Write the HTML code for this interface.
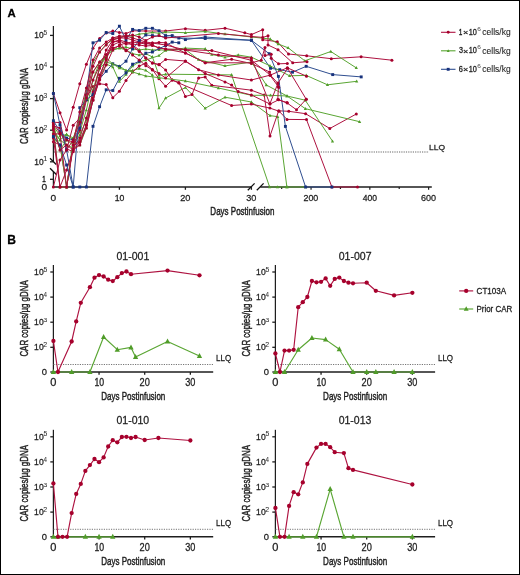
<!DOCTYPE html>
<html><head><meta charset="utf-8"><style>
html,body{margin:0;padding:0;background:#fff;}
svg{display:block;font-family:"Liberation Sans", sans-serif;will-change:transform;}

</style></head><body>
<svg width="520" height="575" viewBox="0 0 520 575">
<rect x="0.5" y="0.5" width="519" height="574" fill="#fff" stroke="#000" stroke-width="1"/>
<text x="7.46" y="16.85" font-size="11.38" font-weight="bold" fill="#000" stroke="#000" stroke-width="0.26" textLength="8.21" lengthAdjust="spacingAndGlyphs">A</text>
<line x1="53.40" y1="26.00" x2="53.40" y2="161.80" stroke="#1e1e1e" stroke-width="1.25"/>
<line x1="53.40" y1="171.80" x2="53.40" y2="187.60" stroke="#1e1e1e" stroke-width="1.25"/>
<line x1="50.00" y1="158.30" x2="56.20" y2="164.50" stroke="#111" stroke-width="1.3"/>
<line x1="50.00" y1="168.20" x2="56.60" y2="174.80" stroke="#111" stroke-width="1.3"/>
<line x1="50.00" y1="35.40" x2="53.40" y2="35.40" stroke="#1e1e1e" stroke-width="1.3"/>
<text x="34.23" y="38.20" font-size="9.14" font-weight="normal" fill="#1f1f1f" stroke="#1f1f1f" stroke-width="0.29" textLength="9.33" lengthAdjust="spacingAndGlyphs">10</text>
<text x="43.54" y="34.79" font-size="6.36" font-weight="normal" fill="#333" stroke="#333" stroke-width="0.05" textLength="3.67" lengthAdjust="spacingAndGlyphs">5</text>
<line x1="50.00" y1="67.00" x2="53.40" y2="67.00" stroke="#1e1e1e" stroke-width="1.3"/>
<text x="34.23" y="69.80" font-size="9.14" font-weight="normal" fill="#1f1f1f" stroke="#1f1f1f" stroke-width="0.29" textLength="9.33" lengthAdjust="spacingAndGlyphs">10</text>
<text x="43.68" y="66.52" font-size="6.54" font-weight="normal" fill="#333" stroke="#333" stroke-width="0.05" textLength="3.38" lengthAdjust="spacingAndGlyphs">4</text>
<line x1="50.00" y1="98.60" x2="53.40" y2="98.60" stroke="#1e1e1e" stroke-width="1.3"/>
<text x="34.23" y="101.40" font-size="9.14" font-weight="normal" fill="#1f1f1f" stroke="#1f1f1f" stroke-width="0.29" textLength="9.33" lengthAdjust="spacingAndGlyphs">10</text>
<text x="43.54" y="97.99" font-size="6.27" font-weight="normal" fill="#333" stroke="#333" stroke-width="0.05" textLength="3.67" lengthAdjust="spacingAndGlyphs">3</text>
<line x1="50.00" y1="130.20" x2="53.40" y2="130.20" stroke="#1e1e1e" stroke-width="1.3"/>
<text x="34.23" y="133.00" font-size="9.14" font-weight="normal" fill="#1f1f1f" stroke="#1f1f1f" stroke-width="0.29" textLength="9.33" lengthAdjust="spacingAndGlyphs">10</text>
<text x="43.46" y="129.65" font-size="6.36" font-weight="normal" fill="#333" stroke="#333" stroke-width="0.05" textLength="3.75" lengthAdjust="spacingAndGlyphs">2</text>
<line x1="50.00" y1="161.80" x2="53.40" y2="161.80" stroke="#1e1e1e" stroke-width="1.3"/>
<text x="34.23" y="164.60" font-size="9.14" font-weight="normal" fill="#1f1f1f" stroke="#1f1f1f" stroke-width="0.29" textLength="9.33" lengthAdjust="spacingAndGlyphs">10</text>
<text x="43.22" y="161.25" font-size="6.45" font-weight="normal" fill="#333" stroke="#333" stroke-width="0.05" textLength="4.01" lengthAdjust="spacingAndGlyphs">1</text>
<line x1="50.00" y1="179.30" x2="53.40" y2="179.30" stroke="#1e1e1e" stroke-width="1.3"/>
<text x="42.20" y="181.70" font-size="8.57" font-weight="normal" fill="#1f1f1f" stroke="#1f1f1f" stroke-width="0.43" textLength="3.49" lengthAdjust="spacingAndGlyphs">1</text>
<text x="41.59" y="189.80" font-size="9.43" font-weight="normal" fill="#1f1f1f" stroke="#1f1f1f" stroke-width="0.26" textLength="5.68" lengthAdjust="spacingAndGlyphs">0</text>
<line x1="52.80" y1="187.00" x2="251.20" y2="187.00" stroke="#1e1e1e" stroke-width="1.45"/>
<line x1="260.20" y1="187.00" x2="431.80" y2="187.00" stroke="#1e1e1e" stroke-width="1.45"/>
<line x1="247.80" y1="190.20" x2="254.60" y2="183.40" stroke="#111" stroke-width="1.3"/>
<line x1="256.80" y1="190.20" x2="263.60" y2="183.40" stroke="#111" stroke-width="1.3"/>
<line x1="119.40" y1="187.00" x2="119.40" y2="189.80" stroke="#1e1e1e" stroke-width="1.3"/>
<line x1="185.40" y1="187.00" x2="185.40" y2="189.80" stroke="#1e1e1e" stroke-width="1.3"/>
<line x1="251.40" y1="187.00" x2="251.40" y2="189.80" stroke="#1e1e1e" stroke-width="1.3"/>
<line x1="281.66" y1="187.00" x2="281.66" y2="189.00" stroke="#1e1e1e" stroke-width="1.2"/>
<line x1="311.05" y1="187.00" x2="311.05" y2="189.80" stroke="#1e1e1e" stroke-width="1.2"/>
<line x1="340.44" y1="187.00" x2="340.44" y2="189.00" stroke="#1e1e1e" stroke-width="1.2"/>
<line x1="369.83" y1="187.00" x2="369.83" y2="189.80" stroke="#1e1e1e" stroke-width="1.2"/>
<line x1="399.22" y1="187.00" x2="399.22" y2="189.00" stroke="#1e1e1e" stroke-width="1.2"/>
<line x1="428.61" y1="187.00" x2="428.61" y2="189.80" stroke="#1e1e1e" stroke-width="1.2"/>
<text x="50.59" y="200.80" font-size="9.71" font-weight="normal" fill="#1f1f1f" stroke="#1f1f1f" stroke-width="0.26" textLength="5.68" lengthAdjust="spacingAndGlyphs">0</text>
<text x="114.71" y="200.80" font-size="9.71" font-weight="normal" fill="#1f1f1f" stroke="#1f1f1f" stroke-width="0.30" textLength="9.66" lengthAdjust="spacingAndGlyphs">10</text>
<text x="180.14" y="200.80" font-size="9.71" font-weight="normal" fill="#1f1f1f" stroke="#1f1f1f" stroke-width="0.26" textLength="10.25" lengthAdjust="spacingAndGlyphs">20</text>
<text x="246.23" y="200.80" font-size="9.71" font-weight="normal" fill="#1f1f1f" stroke="#1f1f1f" stroke-width="0.27" textLength="10.15" lengthAdjust="spacingAndGlyphs">30</text>
<text x="303.45" y="200.80" font-size="9.71" font-weight="normal" fill="#1f1f1f" stroke="#1f1f1f" stroke-width="0.29" textLength="14.89" lengthAdjust="spacingAndGlyphs">200</text>
<text x="362.63" y="200.80" font-size="9.71" font-weight="normal" fill="#1f1f1f" stroke="#1f1f1f" stroke-width="0.31" textLength="14.30" lengthAdjust="spacingAndGlyphs">400</text>
<text x="421.05" y="200.80" font-size="9.71" font-weight="normal" fill="#1f1f1f" stroke="#1f1f1f" stroke-width="0.27" textLength="15.10" lengthAdjust="spacingAndGlyphs">600</text>
<text x="210.36" y="214.70" font-size="11.01" font-weight="normal" fill="#1f1f1f" stroke="#1f1f1f" stroke-width="0.44" textLength="64.05" lengthAdjust="spacingAndGlyphs">Days Postinfusion</text>
<text transform="translate(27.80,143.89) rotate(-90)" x="0" y="0" font-size="10.87" fill="#1f1f1f" stroke="#1f1f1f" stroke-width="0.44" textLength="75.84" lengthAdjust="spacingAndGlyphs">CAR copies/µg gDNA</text>
<line x1="54.0" y1="152" x2="429" y2="152" stroke="#666" stroke-width="1.1" stroke-dasharray="1.2 1.1"/>
<text x="429.02" y="150.00" font-size="7.71" font-weight="normal" fill="#1f1f1f" stroke="#1f1f1f" stroke-width="0.26" textLength="16.00" lengthAdjust="spacingAndGlyphs">LLQ</text>
<line x1="441.00" y1="32.30" x2="455.50" y2="32.30" stroke="#ae1240" stroke-width="1.1"/>
<circle cx="448.20" cy="32.30" r="1.45" fill="#a6002c"/>
<text x="459.03" y="34.90" font-size="8.43" font-weight="normal" fill="#1f1f1f" stroke="#1f1f1f" stroke-width="0.47" textLength="3.23" lengthAdjust="spacingAndGlyphs">1</text>
<text x="463.11" y="35.12" font-size="7.95" font-weight="normal" fill="#1f1f1f" stroke="#1f1f1f" stroke-width="0.26" textLength="5.31" lengthAdjust="spacingAndGlyphs">×</text>
<text x="468.66" y="34.90" font-size="8.43" font-weight="normal" fill="#1f1f1f" stroke="#1f1f1f" stroke-width="0.32" textLength="8.15" lengthAdjust="spacingAndGlyphs">10</text>
<text x="477.17" y="30.95" font-size="5.28" font-weight="normal" fill="#444" textLength="3.63" lengthAdjust="spacingAndGlyphs">6</text>
<text x="482.36" y="35.05" font-size="8.83" font-weight="normal" fill="#1f1f1f" stroke="#1f1f1f" stroke-width="0.10" textLength="28.29" lengthAdjust="spacingAndGlyphs">cells/kg</text>
<line x1="441.00" y1="50.80" x2="455.50" y2="50.80" stroke="#5aa633" stroke-width="1.1"/>
<path d="M448.20,49.15L449.65,51.90L446.75,51.90Z" fill="#509c29"/>
<text x="458.91" y="53.40" font-size="8.43" font-weight="normal" fill="#1f1f1f" stroke="#1f1f1f" stroke-width="0.33" textLength="4.02" lengthAdjust="spacingAndGlyphs">3</text>
<text x="463.11" y="53.62" font-size="7.95" font-weight="normal" fill="#1f1f1f" stroke="#1f1f1f" stroke-width="0.26" textLength="5.31" lengthAdjust="spacingAndGlyphs">×</text>
<text x="468.66" y="53.40" font-size="8.43" font-weight="normal" fill="#1f1f1f" stroke="#1f1f1f" stroke-width="0.32" textLength="8.15" lengthAdjust="spacingAndGlyphs">10</text>
<text x="477.17" y="49.45" font-size="5.28" font-weight="normal" fill="#444" textLength="3.63" lengthAdjust="spacingAndGlyphs">6</text>
<text x="482.36" y="53.55" font-size="8.83" font-weight="normal" fill="#1f1f1f" stroke="#1f1f1f" stroke-width="0.10" textLength="28.29" lengthAdjust="spacingAndGlyphs">cells/kg</text>
<line x1="441.00" y1="69.30" x2="455.50" y2="69.30" stroke="#2f4e90" stroke-width="1.1"/>
<rect x="446.75" y="67.85" width="2.9" height="2.9" fill="#17327c"/>
<text x="458.83" y="71.90" font-size="8.43" font-weight="normal" fill="#1f1f1f" stroke="#1f1f1f" stroke-width="0.32" textLength="4.11" lengthAdjust="spacingAndGlyphs">6</text>
<text x="463.11" y="72.12" font-size="7.95" font-weight="normal" fill="#1f1f1f" stroke="#1f1f1f" stroke-width="0.26" textLength="5.31" lengthAdjust="spacingAndGlyphs">×</text>
<text x="468.66" y="71.90" font-size="8.43" font-weight="normal" fill="#1f1f1f" stroke="#1f1f1f" stroke-width="0.32" textLength="8.15" lengthAdjust="spacingAndGlyphs">10</text>
<text x="477.17" y="67.95" font-size="5.28" font-weight="normal" fill="#444" textLength="3.63" lengthAdjust="spacingAndGlyphs">6</text>
<text x="482.36" y="72.05" font-size="8.83" font-weight="normal" fill="#1f1f1f" stroke="#1f1f1f" stroke-width="0.10" textLength="28.29" lengthAdjust="spacingAndGlyphs">cells/kg</text>
<polyline points="53.40,125.70 60.00,136.00 66.60,134.50 73.20,140.00 79.80,132.00 86.40,110.00 93.00,80.00 99.60,62.00 106.20,56.00 112.80,50.00 119.40,48.00 126.00,50.00 132.60,53.70 139.20,55.00 145.80,53.80 152.40,56.90 159.00,75.40 165.60,74.20 231.60,74.90 269.60,187.00 277.50,187.00 287.00,187.00" fill="none" stroke="#5aa633" stroke-width="1.0" stroke-linejoin="round"/>
<path d="M53.40,123.88L55.00,126.92L51.80,126.92Z" fill="#509c29"/>
<path d="M60.00,134.18L61.60,137.22L58.40,137.22Z" fill="#509c29"/>
<path d="M66.60,132.68L68.20,135.72L65.00,135.72Z" fill="#509c29"/>
<path d="M73.20,138.18L74.80,141.22L71.60,141.22Z" fill="#509c29"/>
<path d="M79.80,130.18L81.40,133.22L78.20,133.22Z" fill="#509c29"/>
<path d="M86.40,108.18L88.00,111.22L84.80,111.22Z" fill="#509c29"/>
<path d="M93.00,78.18L94.60,81.22L91.40,81.22Z" fill="#509c29"/>
<path d="M99.60,60.18L101.20,63.22L98.00,63.22Z" fill="#509c29"/>
<path d="M106.20,54.18L107.80,57.22L104.60,57.22Z" fill="#509c29"/>
<path d="M112.80,48.18L114.40,51.22L111.20,51.22Z" fill="#509c29"/>
<path d="M119.40,46.18L121.00,49.22L117.80,49.22Z" fill="#509c29"/>
<path d="M126.00,48.18L127.60,51.22L124.40,51.22Z" fill="#509c29"/>
<path d="M132.60,51.88L134.20,54.92L131.00,54.92Z" fill="#509c29"/>
<path d="M139.20,53.18L140.80,56.22L137.60,56.22Z" fill="#509c29"/>
<path d="M145.80,51.98L147.40,55.02L144.20,55.02Z" fill="#509c29"/>
<path d="M152.40,55.08L154.00,58.12L150.80,58.12Z" fill="#509c29"/>
<path d="M159.00,73.58L160.60,76.62L157.40,76.62Z" fill="#509c29"/>
<path d="M165.60,72.38L167.20,75.42L164.00,75.42Z" fill="#509c29"/>
<path d="M231.60,73.08L233.20,76.12L230.00,76.12Z" fill="#509c29"/>
<path d="M269.60,185.18L271.20,188.22L268.00,188.22Z" fill="#509c29"/>
<path d="M277.50,185.18L279.10,188.22L275.90,188.22Z" fill="#509c29"/>
<path d="M287.00,185.18L288.60,188.22L285.40,188.22Z" fill="#509c29"/>
<polyline points="53.40,93.50 60.00,112.70 66.60,129.90 73.20,107.20 79.80,83.70 86.40,64.20 93.00,48.20 99.60,38.40 106.20,33.00 112.80,31.10 119.40,32.40 126.00,33.50 132.60,30.80 145.80,31.00 165.60,31.00 185.40,28.70 205.20,30.30 225.00,28.20 244.80,32.80 251.40,34.60 262.70,29.70 262.70,39.70 277.30,41.70 288.50,54.00 306.70,55.80 331.30,58.70 361.10,56.80 391.90,60.20" fill="none" stroke="#ae1240" stroke-width="1.0" stroke-linejoin="round"/>
<circle cx="53.40" cy="93.50" r="1.5" fill="#a6002c"/>
<circle cx="60.00" cy="112.70" r="1.5" fill="#a6002c"/>
<circle cx="66.60" cy="129.90" r="1.5" fill="#a6002c"/>
<circle cx="73.20" cy="107.20" r="1.5" fill="#a6002c"/>
<circle cx="79.80" cy="83.70" r="1.5" fill="#a6002c"/>
<circle cx="86.40" cy="64.20" r="1.5" fill="#a6002c"/>
<circle cx="93.00" cy="48.20" r="1.5" fill="#a6002c"/>
<circle cx="99.60" cy="38.40" r="1.5" fill="#a6002c"/>
<circle cx="106.20" cy="33.00" r="1.5" fill="#a6002c"/>
<circle cx="112.80" cy="31.10" r="1.5" fill="#a6002c"/>
<circle cx="119.40" cy="32.40" r="1.5" fill="#a6002c"/>
<circle cx="126.00" cy="33.50" r="1.5" fill="#a6002c"/>
<circle cx="132.60" cy="30.80" r="1.5" fill="#a6002c"/>
<circle cx="145.80" cy="31.00" r="1.5" fill="#a6002c"/>
<circle cx="165.60" cy="31.00" r="1.5" fill="#a6002c"/>
<circle cx="185.40" cy="28.70" r="1.5" fill="#a6002c"/>
<circle cx="205.20" cy="30.30" r="1.5" fill="#a6002c"/>
<circle cx="225.00" cy="28.20" r="1.5" fill="#a6002c"/>
<circle cx="244.80" cy="32.80" r="1.5" fill="#a6002c"/>
<circle cx="251.40" cy="34.60" r="1.5" fill="#a6002c"/>
<circle cx="262.70" cy="29.70" r="1.5" fill="#a6002c"/>
<circle cx="262.70" cy="39.70" r="1.5" fill="#a6002c"/>
<circle cx="277.30" cy="41.70" r="1.5" fill="#a6002c"/>
<circle cx="288.50" cy="54.00" r="1.5" fill="#a6002c"/>
<circle cx="306.70" cy="55.80" r="1.5" fill="#a6002c"/>
<circle cx="331.30" cy="58.70" r="1.5" fill="#a6002c"/>
<circle cx="361.10" cy="56.80" r="1.5" fill="#a6002c"/>
<circle cx="391.90" cy="60.20" r="1.5" fill="#a6002c"/>
<polyline points="53.40,128.00 60.00,187.00 66.60,187.00 73.20,145.00 79.80,135.00 86.40,120.00 93.00,95.00 99.60,68.00 106.20,62.00 112.80,64.00 119.40,66.00 126.00,70.50 132.60,70.50 139.20,68.50 145.80,70.40 152.40,75.00 159.00,108.10 165.60,98.10 185.40,87.50 205.20,108.30 225.00,97.20 251.40,102.00 270.00,115.60 277.70,116.70 286.90,187.00 305.60,187.00" fill="none" stroke="#5aa633" stroke-width="1.0" stroke-linejoin="round"/>
<path d="M53.40,126.18L55.00,129.22L51.80,129.22Z" fill="#509c29"/>
<path d="M60.00,185.18L61.60,188.22L58.40,188.22Z" fill="#509c29"/>
<path d="M66.60,185.18L68.20,188.22L65.00,188.22Z" fill="#509c29"/>
<path d="M73.20,143.18L74.80,146.22L71.60,146.22Z" fill="#509c29"/>
<path d="M79.80,133.18L81.40,136.22L78.20,136.22Z" fill="#509c29"/>
<path d="M86.40,118.18L88.00,121.22L84.80,121.22Z" fill="#509c29"/>
<path d="M93.00,93.18L94.60,96.22L91.40,96.22Z" fill="#509c29"/>
<path d="M99.60,66.18L101.20,69.22L98.00,69.22Z" fill="#509c29"/>
<path d="M106.20,60.18L107.80,63.22L104.60,63.22Z" fill="#509c29"/>
<path d="M112.80,62.18L114.40,65.22L111.20,65.22Z" fill="#509c29"/>
<path d="M119.40,64.18L121.00,67.22L117.80,67.22Z" fill="#509c29"/>
<path d="M126.00,68.68L127.60,71.72L124.40,71.72Z" fill="#509c29"/>
<path d="M132.60,68.68L134.20,71.72L131.00,71.72Z" fill="#509c29"/>
<path d="M139.20,66.68L140.80,69.72L137.60,69.72Z" fill="#509c29"/>
<path d="M145.80,68.58L147.40,71.62L144.20,71.62Z" fill="#509c29"/>
<path d="M152.40,73.18L154.00,76.22L150.80,76.22Z" fill="#509c29"/>
<path d="M159.00,106.28L160.60,109.32L157.40,109.32Z" fill="#509c29"/>
<path d="M165.60,96.28L167.20,99.32L164.00,99.32Z" fill="#509c29"/>
<path d="M185.40,85.68L187.00,88.72L183.80,88.72Z" fill="#509c29"/>
<path d="M205.20,106.48L206.80,109.52L203.60,109.52Z" fill="#509c29"/>
<path d="M225.00,95.38L226.60,98.42L223.40,98.42Z" fill="#509c29"/>
<path d="M251.40,100.18L253.00,103.22L249.80,103.22Z" fill="#509c29"/>
<path d="M270.00,113.78L271.60,116.82L268.40,116.82Z" fill="#509c29"/>
<path d="M277.70,114.88L279.30,117.92L276.10,117.92Z" fill="#509c29"/>
<path d="M286.90,185.18L288.50,188.22L285.30,188.22Z" fill="#509c29"/>
<path d="M305.60,185.18L307.20,188.22L304.00,188.22Z" fill="#509c29"/>
<polyline points="53.40,122.20 60.00,122.60 66.60,148.80 73.20,151.80 79.80,123.50 86.40,97.50 93.00,86.50 99.60,83.80 106.20,84.60 112.80,97.70 119.40,91.30 126.00,80.40 132.60,72.10 139.20,66.00 145.80,63.30 152.40,69.50 159.00,78.70 165.60,86.30 172.20,80.10 178.80,82.50 185.40,96.50 192.00,94.60 198.60,78.10 205.20,77.00 211.80,85.30 251.40,90.20 264.20,95.00 270.00,136.00 278.70,110.80 288.80,111.30 305.60,113.70 329.80,128.50 356.30,114.00" fill="none" stroke="#ae1240" stroke-width="1.0" stroke-linejoin="round"/>
<circle cx="53.40" cy="122.20" r="1.5" fill="#a6002c"/>
<circle cx="60.00" cy="122.60" r="1.5" fill="#a6002c"/>
<circle cx="66.60" cy="148.80" r="1.5" fill="#a6002c"/>
<circle cx="73.20" cy="151.80" r="1.5" fill="#a6002c"/>
<circle cx="79.80" cy="123.50" r="1.5" fill="#a6002c"/>
<circle cx="86.40" cy="97.50" r="1.5" fill="#a6002c"/>
<circle cx="93.00" cy="86.50" r="1.5" fill="#a6002c"/>
<circle cx="99.60" cy="83.80" r="1.5" fill="#a6002c"/>
<circle cx="106.20" cy="84.60" r="1.5" fill="#a6002c"/>
<circle cx="112.80" cy="97.70" r="1.5" fill="#a6002c"/>
<circle cx="119.40" cy="91.30" r="1.5" fill="#a6002c"/>
<circle cx="126.00" cy="80.40" r="1.5" fill="#a6002c"/>
<circle cx="132.60" cy="72.10" r="1.5" fill="#a6002c"/>
<circle cx="139.20" cy="66.00" r="1.5" fill="#a6002c"/>
<circle cx="145.80" cy="63.30" r="1.5" fill="#a6002c"/>
<circle cx="152.40" cy="69.50" r="1.5" fill="#a6002c"/>
<circle cx="159.00" cy="78.70" r="1.5" fill="#a6002c"/>
<circle cx="165.60" cy="86.30" r="1.5" fill="#a6002c"/>
<circle cx="172.20" cy="80.10" r="1.5" fill="#a6002c"/>
<circle cx="178.80" cy="82.50" r="1.5" fill="#a6002c"/>
<circle cx="185.40" cy="96.50" r="1.5" fill="#a6002c"/>
<circle cx="192.00" cy="94.60" r="1.5" fill="#a6002c"/>
<circle cx="198.60" cy="78.10" r="1.5" fill="#a6002c"/>
<circle cx="205.20" cy="77.00" r="1.5" fill="#a6002c"/>
<circle cx="211.80" cy="85.30" r="1.5" fill="#a6002c"/>
<circle cx="251.40" cy="90.20" r="1.5" fill="#a6002c"/>
<circle cx="264.20" cy="95.00" r="1.5" fill="#a6002c"/>
<circle cx="270.00" cy="136.00" r="1.5" fill="#a6002c"/>
<circle cx="278.70" cy="110.80" r="1.5" fill="#a6002c"/>
<circle cx="288.80" cy="111.30" r="1.5" fill="#a6002c"/>
<circle cx="305.60" cy="113.70" r="1.5" fill="#a6002c"/>
<circle cx="329.80" cy="128.50" r="1.5" fill="#a6002c"/>
<circle cx="356.30" cy="114.00" r="1.5" fill="#a6002c"/>
<polyline points="53.40,132.00 60.00,140.00 66.60,134.50 73.20,138.00 79.80,120.00 86.40,90.00 93.00,62.00 99.60,52.00 106.20,44.00 112.80,39.90 119.40,37.00 126.00,36.00 132.60,36.00 139.20,34.00 145.80,33.50 152.40,32.40 159.00,33.30 165.60,32.00 185.40,32.70 205.20,31.50 225.00,34.00 251.40,37.00 270.20,39.00 278.20,44.00 288.10,47.80 304.80,60.80 330.80,51.50 356.30,67.90" fill="none" stroke="#5aa633" stroke-width="1.0" stroke-linejoin="round"/>
<path d="M53.40,130.18L55.00,133.22L51.80,133.22Z" fill="#509c29"/>
<path d="M60.00,138.18L61.60,141.22L58.40,141.22Z" fill="#509c29"/>
<path d="M66.60,132.68L68.20,135.72L65.00,135.72Z" fill="#509c29"/>
<path d="M73.20,136.18L74.80,139.22L71.60,139.22Z" fill="#509c29"/>
<path d="M79.80,118.18L81.40,121.22L78.20,121.22Z" fill="#509c29"/>
<path d="M86.40,88.18L88.00,91.22L84.80,91.22Z" fill="#509c29"/>
<path d="M93.00,60.18L94.60,63.22L91.40,63.22Z" fill="#509c29"/>
<path d="M99.60,50.18L101.20,53.22L98.00,53.22Z" fill="#509c29"/>
<path d="M106.20,42.18L107.80,45.22L104.60,45.22Z" fill="#509c29"/>
<path d="M112.80,38.08L114.40,41.12L111.20,41.12Z" fill="#509c29"/>
<path d="M119.40,35.18L121.00,38.22L117.80,38.22Z" fill="#509c29"/>
<path d="M126.00,34.18L127.60,37.22L124.40,37.22Z" fill="#509c29"/>
<path d="M132.60,34.18L134.20,37.22L131.00,37.22Z" fill="#509c29"/>
<path d="M139.20,32.18L140.80,35.22L137.60,35.22Z" fill="#509c29"/>
<path d="M145.80,31.68L147.40,34.72L144.20,34.72Z" fill="#509c29"/>
<path d="M152.40,30.58L154.00,33.62L150.80,33.62Z" fill="#509c29"/>
<path d="M159.00,31.48L160.60,34.52L157.40,34.52Z" fill="#509c29"/>
<path d="M165.60,30.18L167.20,33.22L164.00,33.22Z" fill="#509c29"/>
<path d="M185.40,30.88L187.00,33.92L183.80,33.92Z" fill="#509c29"/>
<path d="M205.20,29.68L206.80,32.72L203.60,32.72Z" fill="#509c29"/>
<path d="M225.00,32.18L226.60,35.22L223.40,35.22Z" fill="#509c29"/>
<path d="M251.40,35.18L253.00,38.22L249.80,38.22Z" fill="#509c29"/>
<path d="M270.20,37.18L271.80,40.22L268.60,40.22Z" fill="#509c29"/>
<path d="M278.20,42.18L279.80,45.22L276.60,45.22Z" fill="#509c29"/>
<path d="M288.10,45.98L289.70,49.02L286.50,49.02Z" fill="#509c29"/>
<path d="M304.80,58.98L306.40,62.02L303.20,62.02Z" fill="#509c29"/>
<path d="M330.80,49.68L332.40,52.72L329.20,52.72Z" fill="#509c29"/>
<path d="M356.30,66.08L357.90,69.12L354.70,69.12Z" fill="#509c29"/>
<polyline points="53.40,141.80 60.00,144.90 66.60,187.00 73.20,145.00 79.80,130.00 86.40,100.00 93.00,80.00 99.60,66.00 106.20,55.00 112.80,42.00 119.40,40.00 126.00,42.00 132.60,45.00 139.20,50.00 145.80,58.00 152.40,63.10 159.00,64.50 165.60,70.00 172.20,80.10 178.80,83.00 231.60,105.50 251.40,104.10 269.90,108.10 279.00,111.20 287.00,119.40 306.50,119.60 331.90,187.00 357.50,187.00" fill="none" stroke="#ae1240" stroke-width="1.0" stroke-linejoin="round"/>
<circle cx="53.40" cy="141.80" r="1.5" fill="#a6002c"/>
<circle cx="60.00" cy="144.90" r="1.5" fill="#a6002c"/>
<circle cx="66.60" cy="187.00" r="1.5" fill="#a6002c"/>
<circle cx="73.20" cy="145.00" r="1.5" fill="#a6002c"/>
<circle cx="79.80" cy="130.00" r="1.5" fill="#a6002c"/>
<circle cx="86.40" cy="100.00" r="1.5" fill="#a6002c"/>
<circle cx="93.00" cy="80.00" r="1.5" fill="#a6002c"/>
<circle cx="99.60" cy="66.00" r="1.5" fill="#a6002c"/>
<circle cx="106.20" cy="55.00" r="1.5" fill="#a6002c"/>
<circle cx="112.80" cy="42.00" r="1.5" fill="#a6002c"/>
<circle cx="119.40" cy="40.00" r="1.5" fill="#a6002c"/>
<circle cx="126.00" cy="42.00" r="1.5" fill="#a6002c"/>
<circle cx="132.60" cy="45.00" r="1.5" fill="#a6002c"/>
<circle cx="139.20" cy="50.00" r="1.5" fill="#a6002c"/>
<circle cx="145.80" cy="58.00" r="1.5" fill="#a6002c"/>
<circle cx="152.40" cy="63.10" r="1.5" fill="#a6002c"/>
<circle cx="159.00" cy="64.50" r="1.5" fill="#a6002c"/>
<circle cx="165.60" cy="70.00" r="1.5" fill="#a6002c"/>
<circle cx="172.20" cy="80.10" r="1.5" fill="#a6002c"/>
<circle cx="178.80" cy="83.00" r="1.5" fill="#a6002c"/>
<circle cx="231.60" cy="105.50" r="1.5" fill="#a6002c"/>
<circle cx="251.40" cy="104.10" r="1.5" fill="#a6002c"/>
<circle cx="269.90" cy="108.10" r="1.5" fill="#a6002c"/>
<circle cx="279.00" cy="111.20" r="1.5" fill="#a6002c"/>
<circle cx="287.00" cy="119.40" r="1.5" fill="#a6002c"/>
<circle cx="306.50" cy="119.60" r="1.5" fill="#a6002c"/>
<circle cx="331.90" cy="187.00" r="1.5" fill="#a6002c"/>
<circle cx="357.50" cy="187.00" r="1.5" fill="#a6002c"/>
<polyline points="53.40,120.70 60.00,131.50 66.60,138.00 73.20,140.00 79.80,128.00 86.40,95.00 93.00,42.80 99.60,40.20 106.20,32.50 112.80,33.50 119.40,26.20 126.00,40.10 132.60,29.40 139.20,30.50 145.80,28.30 152.40,28.30 159.00,30.70 165.60,35.60 172.20,35.60 185.40,39.60 205.20,37.00 251.40,40.30 270.50,68.30 279.70,69.70 292.50,72.20 306.20,66.30 332.70,74.60 361.20,76.90" fill="none" stroke="#2f4e90" stroke-width="1.0" stroke-linejoin="round"/>
<rect x="51.95" y="119.25" width="2.9" height="2.9" fill="#17327c"/>
<rect x="58.55" y="130.05" width="2.9" height="2.9" fill="#17327c"/>
<rect x="65.15" y="136.55" width="2.9" height="2.9" fill="#17327c"/>
<rect x="71.75" y="138.55" width="2.9" height="2.9" fill="#17327c"/>
<rect x="78.35" y="126.55" width="2.9" height="2.9" fill="#17327c"/>
<rect x="84.95" y="93.55" width="2.9" height="2.9" fill="#17327c"/>
<rect x="91.55" y="41.35" width="2.9" height="2.9" fill="#17327c"/>
<rect x="98.15" y="38.75" width="2.9" height="2.9" fill="#17327c"/>
<rect x="104.75" y="31.05" width="2.9" height="2.9" fill="#17327c"/>
<rect x="111.35" y="32.05" width="2.9" height="2.9" fill="#17327c"/>
<rect x="117.95" y="24.75" width="2.9" height="2.9" fill="#17327c"/>
<rect x="124.55" y="38.65" width="2.9" height="2.9" fill="#17327c"/>
<rect x="131.15" y="27.95" width="2.9" height="2.9" fill="#17327c"/>
<rect x="137.75" y="29.05" width="2.9" height="2.9" fill="#17327c"/>
<rect x="144.35" y="26.85" width="2.9" height="2.9" fill="#17327c"/>
<rect x="150.95" y="26.85" width="2.9" height="2.9" fill="#17327c"/>
<rect x="157.55" y="29.25" width="2.9" height="2.9" fill="#17327c"/>
<rect x="164.15" y="34.15" width="2.9" height="2.9" fill="#17327c"/>
<rect x="170.75" y="34.15" width="2.9" height="2.9" fill="#17327c"/>
<rect x="183.95" y="38.15" width="2.9" height="2.9" fill="#17327c"/>
<rect x="203.75" y="35.55" width="2.9" height="2.9" fill="#17327c"/>
<rect x="249.95" y="38.85" width="2.9" height="2.9" fill="#17327c"/>
<rect x="269.05" y="66.85" width="2.9" height="2.9" fill="#17327c"/>
<rect x="278.25" y="68.25" width="2.9" height="2.9" fill="#17327c"/>
<rect x="291.05" y="70.75" width="2.9" height="2.9" fill="#17327c"/>
<rect x="304.75" y="64.85" width="2.9" height="2.9" fill="#17327c"/>
<rect x="331.25" y="73.15" width="2.9" height="2.9" fill="#17327c"/>
<rect x="359.75" y="75.45" width="2.9" height="2.9" fill="#17327c"/>
<polyline points="53.40,124.00 60.00,150.00 66.60,140.00 73.20,145.00 79.80,140.00 86.40,125.00 93.00,90.00 99.60,68.00 106.20,56.00 112.80,50.00 119.40,48.00 126.00,47.00 132.60,49.00 139.20,50.00 145.80,49.00 152.40,50.00 159.00,49.70 165.60,50.30 185.40,48.10 205.20,48.90 211.80,54.50 225.00,57.20 238.20,55.00 251.40,57.20 270.00,65.80 289.60,75.80 306.20,75.40 327.50,84.80 356.70,81.30" fill="none" stroke="#5aa633" stroke-width="1.0" stroke-linejoin="round"/>
<path d="M53.40,122.18L55.00,125.22L51.80,125.22Z" fill="#509c29"/>
<path d="M60.00,148.18L61.60,151.22L58.40,151.22Z" fill="#509c29"/>
<path d="M66.60,138.18L68.20,141.22L65.00,141.22Z" fill="#509c29"/>
<path d="M73.20,143.18L74.80,146.22L71.60,146.22Z" fill="#509c29"/>
<path d="M79.80,138.18L81.40,141.22L78.20,141.22Z" fill="#509c29"/>
<path d="M86.40,123.18L88.00,126.22L84.80,126.22Z" fill="#509c29"/>
<path d="M93.00,88.18L94.60,91.22L91.40,91.22Z" fill="#509c29"/>
<path d="M99.60,66.18L101.20,69.22L98.00,69.22Z" fill="#509c29"/>
<path d="M106.20,54.18L107.80,57.22L104.60,57.22Z" fill="#509c29"/>
<path d="M112.80,48.18L114.40,51.22L111.20,51.22Z" fill="#509c29"/>
<path d="M119.40,46.18L121.00,49.22L117.80,49.22Z" fill="#509c29"/>
<path d="M126.00,45.18L127.60,48.22L124.40,48.22Z" fill="#509c29"/>
<path d="M132.60,47.18L134.20,50.22L131.00,50.22Z" fill="#509c29"/>
<path d="M139.20,48.18L140.80,51.22L137.60,51.22Z" fill="#509c29"/>
<path d="M145.80,47.18L147.40,50.22L144.20,50.22Z" fill="#509c29"/>
<path d="M152.40,48.18L154.00,51.22L150.80,51.22Z" fill="#509c29"/>
<path d="M159.00,47.88L160.60,50.92L157.40,50.92Z" fill="#509c29"/>
<path d="M165.60,48.48L167.20,51.52L164.00,51.52Z" fill="#509c29"/>
<path d="M185.40,46.28L187.00,49.32L183.80,49.32Z" fill="#509c29"/>
<path d="M205.20,47.08L206.80,50.12L203.60,50.12Z" fill="#509c29"/>
<path d="M211.80,52.68L213.40,55.72L210.20,55.72Z" fill="#509c29"/>
<path d="M225.00,55.38L226.60,58.42L223.40,58.42Z" fill="#509c29"/>
<path d="M238.20,53.18L239.80,56.22L236.60,56.22Z" fill="#509c29"/>
<path d="M251.40,55.38L253.00,58.42L249.80,58.42Z" fill="#509c29"/>
<path d="M270.00,63.98L271.60,67.02L268.40,67.02Z" fill="#509c29"/>
<path d="M289.60,73.98L291.20,77.02L288.00,77.02Z" fill="#509c29"/>
<path d="M306.20,73.58L307.80,76.62L304.60,76.62Z" fill="#509c29"/>
<path d="M327.50,82.98L329.10,86.02L325.90,86.02Z" fill="#509c29"/>
<path d="M356.70,79.48L358.30,82.52L355.10,82.52Z" fill="#509c29"/>
<polyline points="53.40,126.00 60.00,128.00 66.60,150.00 73.20,125.30 79.80,118.00 86.40,95.00 93.00,66.20 99.60,52.00 106.20,45.00 112.80,38.00 119.40,36.00 126.00,36.00 132.60,38.00 139.20,40.00 145.80,42.00 152.40,43.00 159.00,42.50 165.60,42.80 185.40,53.10 205.20,62.70 231.60,59.30 251.40,63.50 269.60,72.00 270.40,75.10 278.00,83.50 278.80,87.40" fill="none" stroke="#ae1240" stroke-width="1.0" stroke-linejoin="round"/>
<circle cx="53.40" cy="126.00" r="1.5" fill="#a6002c"/>
<circle cx="60.00" cy="128.00" r="1.5" fill="#a6002c"/>
<circle cx="66.60" cy="150.00" r="1.5" fill="#a6002c"/>
<circle cx="73.20" cy="125.30" r="1.5" fill="#a6002c"/>
<circle cx="79.80" cy="118.00" r="1.5" fill="#a6002c"/>
<circle cx="86.40" cy="95.00" r="1.5" fill="#a6002c"/>
<circle cx="93.00" cy="66.20" r="1.5" fill="#a6002c"/>
<circle cx="99.60" cy="52.00" r="1.5" fill="#a6002c"/>
<circle cx="106.20" cy="45.00" r="1.5" fill="#a6002c"/>
<circle cx="112.80" cy="38.00" r="1.5" fill="#a6002c"/>
<circle cx="119.40" cy="36.00" r="1.5" fill="#a6002c"/>
<circle cx="126.00" cy="36.00" r="1.5" fill="#a6002c"/>
<circle cx="132.60" cy="38.00" r="1.5" fill="#a6002c"/>
<circle cx="139.20" cy="40.00" r="1.5" fill="#a6002c"/>
<circle cx="145.80" cy="42.00" r="1.5" fill="#a6002c"/>
<circle cx="152.40" cy="43.00" r="1.5" fill="#a6002c"/>
<circle cx="159.00" cy="42.50" r="1.5" fill="#a6002c"/>
<circle cx="165.60" cy="42.80" r="1.5" fill="#a6002c"/>
<circle cx="185.40" cy="53.10" r="1.5" fill="#a6002c"/>
<circle cx="205.20" cy="62.70" r="1.5" fill="#a6002c"/>
<circle cx="231.60" cy="59.30" r="1.5" fill="#a6002c"/>
<circle cx="251.40" cy="63.50" r="1.5" fill="#a6002c"/>
<circle cx="269.60" cy="72.00" r="1.5" fill="#a6002c"/>
<circle cx="270.40" cy="75.10" r="1.5" fill="#a6002c"/>
<circle cx="278.00" cy="83.50" r="1.5" fill="#a6002c"/>
<circle cx="278.80" cy="87.40" r="1.5" fill="#a6002c"/>
<polyline points="53.40,130.00 60.00,140.00 66.60,145.00 73.20,148.00 79.80,145.00 86.40,128.00 93.00,100.00 99.60,78.00 106.20,64.00 112.80,67.00 119.40,81.50 126.00,74.60 132.60,66.00 139.20,62.00 145.80,60.00 159.00,55.60 165.60,50.30 185.40,49.50 198.60,59.60 225.00,65.90 251.40,62.00 266.30,85.00 287.00,96.00 305.40,108.70 359.60,121.70" fill="none" stroke="#5aa633" stroke-width="1.0" stroke-linejoin="round"/>
<path d="M53.40,128.18L55.00,131.22L51.80,131.22Z" fill="#509c29"/>
<path d="M60.00,138.18L61.60,141.22L58.40,141.22Z" fill="#509c29"/>
<path d="M66.60,143.18L68.20,146.22L65.00,146.22Z" fill="#509c29"/>
<path d="M73.20,146.18L74.80,149.22L71.60,149.22Z" fill="#509c29"/>
<path d="M79.80,143.18L81.40,146.22L78.20,146.22Z" fill="#509c29"/>
<path d="M86.40,126.18L88.00,129.22L84.80,129.22Z" fill="#509c29"/>
<path d="M93.00,98.18L94.60,101.22L91.40,101.22Z" fill="#509c29"/>
<path d="M99.60,76.18L101.20,79.22L98.00,79.22Z" fill="#509c29"/>
<path d="M106.20,62.18L107.80,65.22L104.60,65.22Z" fill="#509c29"/>
<path d="M112.80,65.18L114.40,68.22L111.20,68.22Z" fill="#509c29"/>
<path d="M119.40,79.68L121.00,82.72L117.80,82.72Z" fill="#509c29"/>
<path d="M126.00,72.78L127.60,75.82L124.40,75.82Z" fill="#509c29"/>
<path d="M132.60,64.18L134.20,67.22L131.00,67.22Z" fill="#509c29"/>
<path d="M139.20,60.18L140.80,63.22L137.60,63.22Z" fill="#509c29"/>
<path d="M145.80,58.18L147.40,61.22L144.20,61.22Z" fill="#509c29"/>
<path d="M159.00,53.78L160.60,56.82L157.40,56.82Z" fill="#509c29"/>
<path d="M165.60,48.48L167.20,51.52L164.00,51.52Z" fill="#509c29"/>
<path d="M185.40,47.68L187.00,50.72L183.80,50.72Z" fill="#509c29"/>
<path d="M198.60,57.78L200.20,60.82L197.00,60.82Z" fill="#509c29"/>
<path d="M225.00,64.08L226.60,67.12L223.40,67.12Z" fill="#509c29"/>
<path d="M251.40,60.18L253.00,63.22L249.80,63.22Z" fill="#509c29"/>
<path d="M266.30,83.18L267.90,86.22L264.70,86.22Z" fill="#509c29"/>
<path d="M287.00,94.18L288.60,97.22L285.40,97.22Z" fill="#509c29"/>
<path d="M305.40,106.88L307.00,109.92L303.80,109.92Z" fill="#509c29"/>
<path d="M359.60,119.88L361.20,122.92L358.00,122.92Z" fill="#509c29"/>
<polyline points="53.40,130.00 60.00,187.00 66.60,187.00 73.20,148.00 79.80,138.00 86.40,118.00 93.00,92.00 99.60,68.00 106.20,50.00 112.80,40.00 119.40,38.00 126.00,38.00 132.60,40.00 139.20,42.00 145.80,43.00 152.40,45.10 159.00,48.00 165.60,49.00 185.40,49.50 211.80,50.60 251.40,60.30 270.40,75.10 287.30,67.80 306.50,76.20" fill="none" stroke="#ae1240" stroke-width="1.0" stroke-linejoin="round"/>
<circle cx="53.40" cy="130.00" r="1.5" fill="#a6002c"/>
<circle cx="60.00" cy="187.00" r="1.5" fill="#a6002c"/>
<circle cx="66.60" cy="187.00" r="1.5" fill="#a6002c"/>
<circle cx="73.20" cy="148.00" r="1.5" fill="#a6002c"/>
<circle cx="79.80" cy="138.00" r="1.5" fill="#a6002c"/>
<circle cx="86.40" cy="118.00" r="1.5" fill="#a6002c"/>
<circle cx="93.00" cy="92.00" r="1.5" fill="#a6002c"/>
<circle cx="99.60" cy="68.00" r="1.5" fill="#a6002c"/>
<circle cx="106.20" cy="50.00" r="1.5" fill="#a6002c"/>
<circle cx="112.80" cy="40.00" r="1.5" fill="#a6002c"/>
<circle cx="119.40" cy="38.00" r="1.5" fill="#a6002c"/>
<circle cx="126.00" cy="38.00" r="1.5" fill="#a6002c"/>
<circle cx="132.60" cy="40.00" r="1.5" fill="#a6002c"/>
<circle cx="139.20" cy="42.00" r="1.5" fill="#a6002c"/>
<circle cx="145.80" cy="43.00" r="1.5" fill="#a6002c"/>
<circle cx="152.40" cy="45.10" r="1.5" fill="#a6002c"/>
<circle cx="159.00" cy="48.00" r="1.5" fill="#a6002c"/>
<circle cx="165.60" cy="49.00" r="1.5" fill="#a6002c"/>
<circle cx="185.40" cy="49.50" r="1.5" fill="#a6002c"/>
<circle cx="211.80" cy="50.60" r="1.5" fill="#a6002c"/>
<circle cx="251.40" cy="60.30" r="1.5" fill="#a6002c"/>
<circle cx="270.40" cy="75.10" r="1.5" fill="#a6002c"/>
<circle cx="287.30" cy="67.80" r="1.5" fill="#a6002c"/>
<circle cx="306.50" cy="76.20" r="1.5" fill="#a6002c"/>
<polyline points="53.40,93.50 60.00,125.00 66.60,150.00 73.20,187.00 79.80,107.70 86.40,99.80 93.00,94.60 99.60,78.80 106.20,71.30 112.80,63.80 119.40,66.70 126.00,61.20 132.60,48.80 139.20,40.70 145.80,35.00 152.40,35.60 165.60,37.00 178.80,38.00 205.20,38.50 251.40,40.30 269.20,53.70 278.40,76.40 285.40,126.40 305.60,187.00 331.90,187.00" fill="none" stroke="#2f4e90" stroke-width="1.0" stroke-linejoin="round"/>
<rect x="51.95" y="92.05" width="2.9" height="2.9" fill="#17327c"/>
<rect x="58.55" y="123.55" width="2.9" height="2.9" fill="#17327c"/>
<rect x="65.15" y="148.55" width="2.9" height="2.9" fill="#17327c"/>
<rect x="71.75" y="185.55" width="2.9" height="2.9" fill="#17327c"/>
<rect x="78.35" y="106.25" width="2.9" height="2.9" fill="#17327c"/>
<rect x="84.95" y="98.35" width="2.9" height="2.9" fill="#17327c"/>
<rect x="91.55" y="93.15" width="2.9" height="2.9" fill="#17327c"/>
<rect x="98.15" y="77.35" width="2.9" height="2.9" fill="#17327c"/>
<rect x="104.75" y="69.85" width="2.9" height="2.9" fill="#17327c"/>
<rect x="111.35" y="62.35" width="2.9" height="2.9" fill="#17327c"/>
<rect x="117.95" y="65.25" width="2.9" height="2.9" fill="#17327c"/>
<rect x="124.55" y="59.75" width="2.9" height="2.9" fill="#17327c"/>
<rect x="131.15" y="47.35" width="2.9" height="2.9" fill="#17327c"/>
<rect x="137.75" y="39.25" width="2.9" height="2.9" fill="#17327c"/>
<rect x="144.35" y="33.55" width="2.9" height="2.9" fill="#17327c"/>
<rect x="150.95" y="34.15" width="2.9" height="2.9" fill="#17327c"/>
<rect x="164.15" y="35.55" width="2.9" height="2.9" fill="#17327c"/>
<rect x="177.35" y="36.55" width="2.9" height="2.9" fill="#17327c"/>
<rect x="203.75" y="37.05" width="2.9" height="2.9" fill="#17327c"/>
<rect x="249.95" y="38.85" width="2.9" height="2.9" fill="#17327c"/>
<rect x="267.75" y="52.25" width="2.9" height="2.9" fill="#17327c"/>
<rect x="276.95" y="74.95" width="2.9" height="2.9" fill="#17327c"/>
<rect x="283.95" y="124.95" width="2.9" height="2.9" fill="#17327c"/>
<rect x="304.15" y="185.55" width="2.9" height="2.9" fill="#17327c"/>
<rect x="330.45" y="185.55" width="2.9" height="2.9" fill="#17327c"/>
<polyline points="53.40,138.00 60.00,145.00 66.60,187.00 73.20,140.00 79.80,118.00 86.40,98.00 93.00,72.00 99.60,62.00 106.20,58.00 112.80,64.00 119.40,68.00 126.00,70.50 132.60,72.00 139.20,74.00 145.80,76.00 159.00,77.70 185.40,81.00 218.40,88.00 251.40,95.30 270.50,95.30 287.00,96.00 305.20,100.20 332.50,141.20" fill="none" stroke="#5aa633" stroke-width="1.0" stroke-linejoin="round"/>
<path d="M53.40,136.18L55.00,139.22L51.80,139.22Z" fill="#509c29"/>
<path d="M60.00,143.18L61.60,146.22L58.40,146.22Z" fill="#509c29"/>
<path d="M66.60,185.18L68.20,188.22L65.00,188.22Z" fill="#509c29"/>
<path d="M73.20,138.18L74.80,141.22L71.60,141.22Z" fill="#509c29"/>
<path d="M79.80,116.18L81.40,119.22L78.20,119.22Z" fill="#509c29"/>
<path d="M86.40,96.18L88.00,99.22L84.80,99.22Z" fill="#509c29"/>
<path d="M93.00,70.18L94.60,73.22L91.40,73.22Z" fill="#509c29"/>
<path d="M99.60,60.18L101.20,63.22L98.00,63.22Z" fill="#509c29"/>
<path d="M106.20,56.18L107.80,59.22L104.60,59.22Z" fill="#509c29"/>
<path d="M112.80,62.18L114.40,65.22L111.20,65.22Z" fill="#509c29"/>
<path d="M119.40,66.18L121.00,69.22L117.80,69.22Z" fill="#509c29"/>
<path d="M126.00,68.68L127.60,71.72L124.40,71.72Z" fill="#509c29"/>
<path d="M132.60,70.18L134.20,73.22L131.00,73.22Z" fill="#509c29"/>
<path d="M139.20,72.18L140.80,75.22L137.60,75.22Z" fill="#509c29"/>
<path d="M145.80,74.18L147.40,77.22L144.20,77.22Z" fill="#509c29"/>
<path d="M159.00,75.88L160.60,78.92L157.40,78.92Z" fill="#509c29"/>
<path d="M185.40,79.18L187.00,82.22L183.80,82.22Z" fill="#509c29"/>
<path d="M218.40,86.18L220.00,89.22L216.80,89.22Z" fill="#509c29"/>
<path d="M251.40,93.48L253.00,96.52L249.80,96.52Z" fill="#509c29"/>
<path d="M270.50,93.48L272.10,96.52L268.90,96.52Z" fill="#509c29"/>
<path d="M287.00,94.18L288.60,97.22L285.40,97.22Z" fill="#509c29"/>
<path d="M305.20,98.38L306.80,101.42L303.60,101.42Z" fill="#509c29"/>
<path d="M332.50,139.38L334.10,142.42L330.90,142.42Z" fill="#509c29"/>
<polyline points="53.40,134.00 60.00,133.80 66.60,187.00 73.20,145.00 79.80,142.00 86.40,128.00 93.00,100.00 99.60,78.00 106.20,58.00 112.80,45.00 119.40,42.00 126.00,50.80 132.60,46.40 139.20,51.50 145.80,58.00 152.40,63.10 159.00,64.70 165.60,59.40 185.40,61.00 205.20,73.50 225.00,81.90 231.60,85.10 238.20,91.60 251.40,95.00 270.00,104.00 278.70,99.80 287.30,103.10 296.50,109.80 306.20,99.20" fill="none" stroke="#ae1240" stroke-width="1.0" stroke-linejoin="round"/>
<circle cx="53.40" cy="134.00" r="1.5" fill="#a6002c"/>
<circle cx="60.00" cy="133.80" r="1.5" fill="#a6002c"/>
<circle cx="66.60" cy="187.00" r="1.5" fill="#a6002c"/>
<circle cx="73.20" cy="145.00" r="1.5" fill="#a6002c"/>
<circle cx="79.80" cy="142.00" r="1.5" fill="#a6002c"/>
<circle cx="86.40" cy="128.00" r="1.5" fill="#a6002c"/>
<circle cx="93.00" cy="100.00" r="1.5" fill="#a6002c"/>
<circle cx="99.60" cy="78.00" r="1.5" fill="#a6002c"/>
<circle cx="106.20" cy="58.00" r="1.5" fill="#a6002c"/>
<circle cx="112.80" cy="45.00" r="1.5" fill="#a6002c"/>
<circle cx="119.40" cy="42.00" r="1.5" fill="#a6002c"/>
<circle cx="126.00" cy="50.80" r="1.5" fill="#a6002c"/>
<circle cx="132.60" cy="46.40" r="1.5" fill="#a6002c"/>
<circle cx="139.20" cy="51.50" r="1.5" fill="#a6002c"/>
<circle cx="145.80" cy="58.00" r="1.5" fill="#a6002c"/>
<circle cx="152.40" cy="63.10" r="1.5" fill="#a6002c"/>
<circle cx="159.00" cy="64.70" r="1.5" fill="#a6002c"/>
<circle cx="165.60" cy="59.40" r="1.5" fill="#a6002c"/>
<circle cx="185.40" cy="61.00" r="1.5" fill="#a6002c"/>
<circle cx="205.20" cy="73.50" r="1.5" fill="#a6002c"/>
<circle cx="225.00" cy="81.90" r="1.5" fill="#a6002c"/>
<circle cx="231.60" cy="85.10" r="1.5" fill="#a6002c"/>
<circle cx="238.20" cy="91.60" r="1.5" fill="#a6002c"/>
<circle cx="251.40" cy="95.00" r="1.5" fill="#a6002c"/>
<circle cx="270.00" cy="104.00" r="1.5" fill="#a6002c"/>
<circle cx="278.70" cy="99.80" r="1.5" fill="#a6002c"/>
<circle cx="287.30" cy="103.10" r="1.5" fill="#a6002c"/>
<circle cx="296.50" cy="109.80" r="1.5" fill="#a6002c"/>
<circle cx="306.20" cy="99.20" r="1.5" fill="#a6002c"/>
<polyline points="53.40,124.00 60.00,133.00 66.60,140.00 73.20,142.00 79.80,112.00 86.40,88.00 93.00,60.00 99.60,48.00 106.20,42.00 112.80,38.00 119.40,38.00 126.00,36.00 132.60,35.00 139.20,37.00 145.80,40.50 152.40,37.00 159.00,35.60 165.60,38.00 218.40,33.50 251.40,36.50 262.70,37.40 268.00,35.80 268.00,45.00 278.00,49.70 292.70,62.80 307.00,61.70" fill="none" stroke="#ae1240" stroke-width="1.0" stroke-linejoin="round"/>
<circle cx="53.40" cy="124.00" r="1.5" fill="#a6002c"/>
<circle cx="60.00" cy="133.00" r="1.5" fill="#a6002c"/>
<circle cx="66.60" cy="140.00" r="1.5" fill="#a6002c"/>
<circle cx="73.20" cy="142.00" r="1.5" fill="#a6002c"/>
<circle cx="79.80" cy="112.00" r="1.5" fill="#a6002c"/>
<circle cx="86.40" cy="88.00" r="1.5" fill="#a6002c"/>
<circle cx="93.00" cy="60.00" r="1.5" fill="#a6002c"/>
<circle cx="99.60" cy="48.00" r="1.5" fill="#a6002c"/>
<circle cx="106.20" cy="42.00" r="1.5" fill="#a6002c"/>
<circle cx="112.80" cy="38.00" r="1.5" fill="#a6002c"/>
<circle cx="119.40" cy="38.00" r="1.5" fill="#a6002c"/>
<circle cx="126.00" cy="36.00" r="1.5" fill="#a6002c"/>
<circle cx="132.60" cy="35.00" r="1.5" fill="#a6002c"/>
<circle cx="139.20" cy="37.00" r="1.5" fill="#a6002c"/>
<circle cx="145.80" cy="40.50" r="1.5" fill="#a6002c"/>
<circle cx="152.40" cy="37.00" r="1.5" fill="#a6002c"/>
<circle cx="159.00" cy="35.60" r="1.5" fill="#a6002c"/>
<circle cx="165.60" cy="38.00" r="1.5" fill="#a6002c"/>
<circle cx="218.40" cy="33.50" r="1.5" fill="#a6002c"/>
<circle cx="251.40" cy="36.50" r="1.5" fill="#a6002c"/>
<circle cx="262.70" cy="37.40" r="1.5" fill="#a6002c"/>
<circle cx="268.00" cy="35.80" r="1.5" fill="#a6002c"/>
<circle cx="268.00" cy="45.00" r="1.5" fill="#a6002c"/>
<circle cx="278.00" cy="49.70" r="1.5" fill="#a6002c"/>
<circle cx="292.70" cy="62.80" r="1.5" fill="#a6002c"/>
<circle cx="307.00" cy="61.70" r="1.5" fill="#a6002c"/>
<polyline points="53.40,138.00 60.00,187.00 66.60,170.00 73.20,150.00 79.80,145.00 86.40,125.00 93.00,98.00 99.60,75.00 106.20,60.00 112.80,42.00 119.40,41.00 126.00,44.00 132.60,44.00 139.20,45.00 145.80,46.00 152.40,45.50 159.00,47.90 165.60,49.00 185.40,52.90 205.20,62.80 251.40,62.80 261.20,60.20 265.00,47.40 265.00,55.50 271.20,54.30 271.20,58.20 278.50,63.80 287.30,63.50" fill="none" stroke="#ae1240" stroke-width="1.0" stroke-linejoin="round"/>
<circle cx="53.40" cy="138.00" r="1.5" fill="#a6002c"/>
<circle cx="60.00" cy="187.00" r="1.5" fill="#a6002c"/>
<circle cx="66.60" cy="170.00" r="1.5" fill="#a6002c"/>
<circle cx="73.20" cy="150.00" r="1.5" fill="#a6002c"/>
<circle cx="79.80" cy="145.00" r="1.5" fill="#a6002c"/>
<circle cx="86.40" cy="125.00" r="1.5" fill="#a6002c"/>
<circle cx="93.00" cy="98.00" r="1.5" fill="#a6002c"/>
<circle cx="99.60" cy="75.00" r="1.5" fill="#a6002c"/>
<circle cx="106.20" cy="60.00" r="1.5" fill="#a6002c"/>
<circle cx="112.80" cy="42.00" r="1.5" fill="#a6002c"/>
<circle cx="119.40" cy="41.00" r="1.5" fill="#a6002c"/>
<circle cx="126.00" cy="44.00" r="1.5" fill="#a6002c"/>
<circle cx="132.60" cy="44.00" r="1.5" fill="#a6002c"/>
<circle cx="139.20" cy="45.00" r="1.5" fill="#a6002c"/>
<circle cx="145.80" cy="46.00" r="1.5" fill="#a6002c"/>
<circle cx="152.40" cy="45.50" r="1.5" fill="#a6002c"/>
<circle cx="159.00" cy="47.90" r="1.5" fill="#a6002c"/>
<circle cx="165.60" cy="49.00" r="1.5" fill="#a6002c"/>
<circle cx="185.40" cy="52.90" r="1.5" fill="#a6002c"/>
<circle cx="205.20" cy="62.80" r="1.5" fill="#a6002c"/>
<circle cx="251.40" cy="62.80" r="1.5" fill="#a6002c"/>
<circle cx="261.20" cy="60.20" r="1.5" fill="#a6002c"/>
<circle cx="265.00" cy="47.40" r="1.5" fill="#a6002c"/>
<circle cx="265.00" cy="55.50" r="1.5" fill="#a6002c"/>
<circle cx="271.20" cy="54.30" r="1.5" fill="#a6002c"/>
<circle cx="271.20" cy="58.20" r="1.5" fill="#a6002c"/>
<circle cx="278.50" cy="63.80" r="1.5" fill="#a6002c"/>
<circle cx="287.30" cy="63.50" r="1.5" fill="#a6002c"/>
<polyline points="53.40,136.50 60.00,145.00 66.60,165.00 73.20,187.00 79.80,187.00 86.40,187.00 93.00,126.30 99.60,106.70 106.20,89.80 112.80,90.50 119.40,78.30 126.00,72.90 132.60,64.20 139.20,61.30 145.80,53.20 152.40,52.00 165.60,45.50 172.20,42.10 178.80,42.80" fill="none" stroke="#2f4e90" stroke-width="1.0" stroke-linejoin="round"/>
<rect x="51.95" y="135.05" width="2.9" height="2.9" fill="#17327c"/>
<rect x="58.55" y="143.55" width="2.9" height="2.9" fill="#17327c"/>
<rect x="65.15" y="163.55" width="2.9" height="2.9" fill="#17327c"/>
<rect x="71.75" y="185.55" width="2.9" height="2.9" fill="#17327c"/>
<rect x="78.35" y="185.55" width="2.9" height="2.9" fill="#17327c"/>
<rect x="84.95" y="185.55" width="2.9" height="2.9" fill="#17327c"/>
<rect x="91.55" y="124.85" width="2.9" height="2.9" fill="#17327c"/>
<rect x="98.15" y="105.25" width="2.9" height="2.9" fill="#17327c"/>
<rect x="104.75" y="88.35" width="2.9" height="2.9" fill="#17327c"/>
<rect x="111.35" y="89.05" width="2.9" height="2.9" fill="#17327c"/>
<rect x="117.95" y="76.85" width="2.9" height="2.9" fill="#17327c"/>
<rect x="124.55" y="71.45" width="2.9" height="2.9" fill="#17327c"/>
<rect x="131.15" y="62.75" width="2.9" height="2.9" fill="#17327c"/>
<rect x="137.75" y="59.85" width="2.9" height="2.9" fill="#17327c"/>
<rect x="144.35" y="51.75" width="2.9" height="2.9" fill="#17327c"/>
<rect x="150.95" y="50.55" width="2.9" height="2.9" fill="#17327c"/>
<rect x="164.15" y="44.05" width="2.9" height="2.9" fill="#17327c"/>
<rect x="170.75" y="40.65" width="2.9" height="2.9" fill="#17327c"/>
<rect x="177.35" y="41.35" width="2.9" height="2.9" fill="#17327c"/>
<polyline points="53.40,187.00 60.00,160.00 66.60,150.00 73.20,140.00 79.80,122.00 86.40,98.00 93.00,72.00 99.60,62.00 106.20,54.60 112.80,48.00 119.40,46.00 126.00,50.00 132.60,55.00 139.20,60.00 145.80,65.70 152.40,70.00 159.00,73.40 165.60,78.00 185.40,61.30 198.60,69.70 218.40,75.00 251.40,80.00 269.90,75.20 278.40,86.80 277.80,99.60 287.00,102.60" fill="none" stroke="#ae1240" stroke-width="1.0" stroke-linejoin="round"/>
<circle cx="53.40" cy="187.00" r="1.5" fill="#a6002c"/>
<circle cx="60.00" cy="160.00" r="1.5" fill="#a6002c"/>
<circle cx="66.60" cy="150.00" r="1.5" fill="#a6002c"/>
<circle cx="73.20" cy="140.00" r="1.5" fill="#a6002c"/>
<circle cx="79.80" cy="122.00" r="1.5" fill="#a6002c"/>
<circle cx="86.40" cy="98.00" r="1.5" fill="#a6002c"/>
<circle cx="93.00" cy="72.00" r="1.5" fill="#a6002c"/>
<circle cx="99.60" cy="62.00" r="1.5" fill="#a6002c"/>
<circle cx="106.20" cy="54.60" r="1.5" fill="#a6002c"/>
<circle cx="112.80" cy="48.00" r="1.5" fill="#a6002c"/>
<circle cx="119.40" cy="46.00" r="1.5" fill="#a6002c"/>
<circle cx="126.00" cy="50.00" r="1.5" fill="#a6002c"/>
<circle cx="132.60" cy="55.00" r="1.5" fill="#a6002c"/>
<circle cx="139.20" cy="60.00" r="1.5" fill="#a6002c"/>
<circle cx="145.80" cy="65.70" r="1.5" fill="#a6002c"/>
<circle cx="152.40" cy="70.00" r="1.5" fill="#a6002c"/>
<circle cx="159.00" cy="73.40" r="1.5" fill="#a6002c"/>
<circle cx="165.60" cy="78.00" r="1.5" fill="#a6002c"/>
<circle cx="185.40" cy="61.30" r="1.5" fill="#a6002c"/>
<circle cx="198.60" cy="69.70" r="1.5" fill="#a6002c"/>
<circle cx="218.40" cy="75.00" r="1.5" fill="#a6002c"/>
<circle cx="251.40" cy="80.00" r="1.5" fill="#a6002c"/>
<circle cx="269.90" cy="75.20" r="1.5" fill="#a6002c"/>
<circle cx="278.40" cy="86.80" r="1.5" fill="#a6002c"/>
<circle cx="277.80" cy="99.60" r="1.5" fill="#a6002c"/>
<circle cx="287.00" cy="102.60" r="1.5" fill="#a6002c"/>
<polyline points="53.40,128.00 60.00,150.00 66.60,145.00 73.20,150.00 79.80,142.00 86.40,125.00 93.00,100.00 99.60,80.00 106.20,65.00 112.80,50.00 119.40,45.00 126.00,43.00 132.60,42.00 139.20,43.00 145.80,44.00 152.40,43.00 165.60,45.00 185.40,50.00 218.40,55.00 251.40,58.00 269.90,103.80 278.00,83.10 287.60,68.30 306.20,99.20" fill="none" stroke="#ae1240" stroke-width="1.0" stroke-linejoin="round"/>
<circle cx="53.40" cy="128.00" r="1.5" fill="#a6002c"/>
<circle cx="60.00" cy="150.00" r="1.5" fill="#a6002c"/>
<circle cx="66.60" cy="145.00" r="1.5" fill="#a6002c"/>
<circle cx="73.20" cy="150.00" r="1.5" fill="#a6002c"/>
<circle cx="79.80" cy="142.00" r="1.5" fill="#a6002c"/>
<circle cx="86.40" cy="125.00" r="1.5" fill="#a6002c"/>
<circle cx="93.00" cy="100.00" r="1.5" fill="#a6002c"/>
<circle cx="99.60" cy="80.00" r="1.5" fill="#a6002c"/>
<circle cx="106.20" cy="65.00" r="1.5" fill="#a6002c"/>
<circle cx="112.80" cy="50.00" r="1.5" fill="#a6002c"/>
<circle cx="119.40" cy="45.00" r="1.5" fill="#a6002c"/>
<circle cx="126.00" cy="43.00" r="1.5" fill="#a6002c"/>
<circle cx="132.60" cy="42.00" r="1.5" fill="#a6002c"/>
<circle cx="139.20" cy="43.00" r="1.5" fill="#a6002c"/>
<circle cx="145.80" cy="44.00" r="1.5" fill="#a6002c"/>
<circle cx="152.40" cy="43.00" r="1.5" fill="#a6002c"/>
<circle cx="165.60" cy="45.00" r="1.5" fill="#a6002c"/>
<circle cx="185.40" cy="50.00" r="1.5" fill="#a6002c"/>
<circle cx="218.40" cy="55.00" r="1.5" fill="#a6002c"/>
<circle cx="251.40" cy="58.00" r="1.5" fill="#a6002c"/>
<circle cx="269.90" cy="103.80" r="1.5" fill="#a6002c"/>
<circle cx="278.00" cy="83.10" r="1.5" fill="#a6002c"/>
<circle cx="287.60" cy="68.30" r="1.5" fill="#a6002c"/>
<circle cx="306.20" cy="99.20" r="1.5" fill="#a6002c"/>
<text x="7.35" y="244.00" font-size="12.46" font-weight="bold" fill="#000" stroke="#000" stroke-width="0.26" textLength="8.76" lengthAdjust="spacingAndGlyphs">B</text>
<line x1="53.40" y1="265.00" x2="53.40" y2="372.70" stroke="#1e1e1e" stroke-width="1.25"/>
<line x1="50.30" y1="272.00" x2="53.40" y2="272.00" stroke="#1e1e1e" stroke-width="1.3"/>
<text x="34.11" y="275.00" font-size="9.29" font-weight="normal" fill="#1f1f1f" stroke="#1f1f1f" stroke-width="0.28" textLength="9.55" lengthAdjust="spacingAndGlyphs">10</text>
<text x="43.43" y="271.54" font-size="6.29" font-weight="normal" fill="#333" stroke="#333" stroke-width="0.05" textLength="3.79" lengthAdjust="spacingAndGlyphs">5</text>
<line x1="50.30" y1="297.10" x2="53.40" y2="297.10" stroke="#1e1e1e" stroke-width="1.3"/>
<text x="34.11" y="300.10" font-size="9.29" font-weight="normal" fill="#1f1f1f" stroke="#1f1f1f" stroke-width="0.28" textLength="9.55" lengthAdjust="spacingAndGlyphs">10</text>
<text x="43.57" y="296.76" font-size="6.47" font-weight="normal" fill="#333" stroke="#333" stroke-width="0.05" textLength="3.49" lengthAdjust="spacingAndGlyphs">4</text>
<line x1="50.30" y1="322.20" x2="53.40" y2="322.20" stroke="#1e1e1e" stroke-width="1.3"/>
<text x="34.11" y="325.20" font-size="9.29" font-weight="normal" fill="#1f1f1f" stroke="#1f1f1f" stroke-width="0.28" textLength="9.55" lengthAdjust="spacingAndGlyphs">10</text>
<text x="43.43" y="321.74" font-size="6.20" font-weight="normal" fill="#333" stroke="#333" stroke-width="0.05" textLength="3.79" lengthAdjust="spacingAndGlyphs">3</text>
<line x1="50.30" y1="347.30" x2="53.40" y2="347.30" stroke="#1e1e1e" stroke-width="1.3"/>
<text x="34.11" y="350.30" font-size="9.29" font-weight="normal" fill="#1f1f1f" stroke="#1f1f1f" stroke-width="0.28" textLength="9.55" lengthAdjust="spacingAndGlyphs">10</text>
<text x="43.35" y="346.90" font-size="6.29" font-weight="normal" fill="#333" stroke="#333" stroke-width="0.05" textLength="3.87" lengthAdjust="spacingAndGlyphs">2</text>
<line x1="50.30" y1="372.00" x2="53.40" y2="372.00" stroke="#1e1e1e" stroke-width="1.3"/>
<text x="41.83" y="374.70" font-size="9.14" font-weight="normal" fill="#1f1f1f" stroke="#1f1f1f" stroke-width="0.26" textLength="5.21" lengthAdjust="spacingAndGlyphs">0</text>
<line x1="52.80" y1="372.00" x2="213.20" y2="372.00" stroke="#1e1e1e" stroke-width="1.45"/>
<line x1="99.05" y1="372.00" x2="99.05" y2="374.80" stroke="#1e1e1e" stroke-width="1.3"/>
<line x1="144.70" y1="372.00" x2="144.70" y2="374.80" stroke="#1e1e1e" stroke-width="1.3"/>
<line x1="190.35" y1="372.00" x2="190.35" y2="374.80" stroke="#1e1e1e" stroke-width="1.3"/>
<text x="50.31" y="385.90" font-size="10.00" font-weight="normal" fill="#1f1f1f" stroke="#1f1f1f" stroke-width="0.26" textLength="6.14" lengthAdjust="spacingAndGlyphs">0</text>
<text x="94.41" y="385.90" font-size="10.00" font-weight="normal" fill="#1f1f1f" stroke="#1f1f1f" stroke-width="0.33" textLength="9.66" lengthAdjust="spacingAndGlyphs">10</text>
<text x="139.54" y="385.90" font-size="10.00" font-weight="normal" fill="#1f1f1f" stroke="#1f1f1f" stroke-width="0.28" textLength="10.25" lengthAdjust="spacingAndGlyphs">20</text>
<text x="185.28" y="385.90" font-size="10.00" font-weight="normal" fill="#1f1f1f" stroke="#1f1f1f" stroke-width="0.29" textLength="10.15" lengthAdjust="spacingAndGlyphs">30</text>
<line x1="53.4" y1="364.5" x2="213.2" y2="364.5" stroke="#666" stroke-width="0.9" stroke-dasharray="1.2 1.2"/>
<text x="216.06" y="361.10" font-size="8.29" font-weight="normal" fill="#1f1f1f" stroke="#1f1f1f" stroke-width="0.26" textLength="15.14" lengthAdjust="spacingAndGlyphs">LLQ</text>
<text x="116.48" y="259.50" font-size="10.71" font-weight="normal" fill="#1f1f1f" stroke="#1f1f1f" stroke-width="0.26" textLength="32.79" lengthAdjust="spacingAndGlyphs">01-001</text>
<text x="101.16" y="399.70" font-size="10.87" font-weight="normal" fill="#1f1f1f" stroke="#1f1f1f" stroke-width="0.43" textLength="64.15" lengthAdjust="spacingAndGlyphs">Days Postinfusion</text>
<text transform="translate(27.80,356.60) rotate(-90)" x="0" y="0" font-size="10.87" fill="#1f1f1f" stroke="#1f1f1f" stroke-width="0.44" textLength="76.34" lengthAdjust="spacingAndGlyphs">CAR copies/µg gDNA</text>
<polyline points="53.40,372.00 71.66,372.00 89.92,372.00 103.62,337.00 117.31,349.70 131.00,347.40 135.57,357.00 167.53,341.60 199.48,355.90" fill="none" stroke="#5aa633" stroke-width="1.15" stroke-linejoin="round"/>
<path d="M53.40,368.98L56.05,374.01L50.75,374.01Z" fill="#509c29"/>
<path d="M71.66,368.98L74.31,374.01L69.01,374.01Z" fill="#509c29"/>
<path d="M89.92,368.98L92.57,374.01L87.27,374.01Z" fill="#509c29"/>
<path d="M103.62,333.98L106.27,339.01L100.97,339.01Z" fill="#509c29"/>
<path d="M117.31,346.68L119.96,351.71L114.66,351.71Z" fill="#509c29"/>
<path d="M131.00,344.38L133.66,349.41L128.35,349.41Z" fill="#509c29"/>
<path d="M135.57,353.98L138.22,359.01L132.92,359.01Z" fill="#509c29"/>
<path d="M167.53,338.58L170.18,343.61L164.88,343.61Z" fill="#509c29"/>
<path d="M199.48,352.88L202.13,357.91L196.83,357.91Z" fill="#509c29"/>
<polyline points="53.40,341.00 57.96,372.00 71.66,341.50 76.22,321.40 80.79,302.80 89.92,287.20 94.48,277.70 99.05,275.10 103.62,276.50 108.18,279.70 112.75,281.10 117.31,277.20 121.88,273.10 126.44,271.50 131.00,274.20 167.53,270.60 199.48,275.30" fill="none" stroke="#ae1240" stroke-width="1.15" stroke-linejoin="round"/>
<circle cx="53.40" cy="341.00" r="2.15" fill="#a6002c"/>
<circle cx="57.96" cy="372.00" r="2.15" fill="#a6002c"/>
<circle cx="71.66" cy="341.50" r="2.15" fill="#a6002c"/>
<circle cx="76.22" cy="321.40" r="2.15" fill="#a6002c"/>
<circle cx="80.79" cy="302.80" r="2.15" fill="#a6002c"/>
<circle cx="89.92" cy="287.20" r="2.15" fill="#a6002c"/>
<circle cx="94.48" cy="277.70" r="2.15" fill="#a6002c"/>
<circle cx="99.05" cy="275.10" r="2.15" fill="#a6002c"/>
<circle cx="103.62" cy="276.50" r="2.15" fill="#a6002c"/>
<circle cx="108.18" cy="279.70" r="2.15" fill="#a6002c"/>
<circle cx="112.75" cy="281.10" r="2.15" fill="#a6002c"/>
<circle cx="117.31" cy="277.20" r="2.15" fill="#a6002c"/>
<circle cx="121.88" cy="273.10" r="2.15" fill="#a6002c"/>
<circle cx="126.44" cy="271.50" r="2.15" fill="#a6002c"/>
<circle cx="131.00" cy="274.20" r="2.15" fill="#a6002c"/>
<circle cx="167.53" cy="270.60" r="2.15" fill="#a6002c"/>
<circle cx="199.48" cy="275.30" r="2.15" fill="#a6002c"/>
<line x1="275.40" y1="265.00" x2="275.40" y2="372.70" stroke="#1e1e1e" stroke-width="1.25"/>
<line x1="272.30" y1="272.00" x2="275.40" y2="272.00" stroke="#1e1e1e" stroke-width="1.3"/>
<text x="256.11" y="275.00" font-size="9.29" font-weight="normal" fill="#1f1f1f" stroke="#1f1f1f" stroke-width="0.28" textLength="9.55" lengthAdjust="spacingAndGlyphs">10</text>
<text x="265.43" y="271.54" font-size="6.29" font-weight="normal" fill="#333" stroke="#333" stroke-width="0.05" textLength="3.79" lengthAdjust="spacingAndGlyphs">5</text>
<line x1="272.30" y1="297.10" x2="275.40" y2="297.10" stroke="#1e1e1e" stroke-width="1.3"/>
<text x="256.11" y="300.10" font-size="9.29" font-weight="normal" fill="#1f1f1f" stroke="#1f1f1f" stroke-width="0.28" textLength="9.55" lengthAdjust="spacingAndGlyphs">10</text>
<text x="265.57" y="296.76" font-size="6.47" font-weight="normal" fill="#333" stroke="#333" stroke-width="0.05" textLength="3.49" lengthAdjust="spacingAndGlyphs">4</text>
<line x1="272.30" y1="322.20" x2="275.40" y2="322.20" stroke="#1e1e1e" stroke-width="1.3"/>
<text x="256.11" y="325.20" font-size="9.29" font-weight="normal" fill="#1f1f1f" stroke="#1f1f1f" stroke-width="0.28" textLength="9.55" lengthAdjust="spacingAndGlyphs">10</text>
<text x="265.43" y="321.74" font-size="6.20" font-weight="normal" fill="#333" stroke="#333" stroke-width="0.05" textLength="3.79" lengthAdjust="spacingAndGlyphs">3</text>
<line x1="272.30" y1="347.30" x2="275.40" y2="347.30" stroke="#1e1e1e" stroke-width="1.3"/>
<text x="256.11" y="350.30" font-size="9.29" font-weight="normal" fill="#1f1f1f" stroke="#1f1f1f" stroke-width="0.28" textLength="9.55" lengthAdjust="spacingAndGlyphs">10</text>
<text x="265.35" y="346.90" font-size="6.29" font-weight="normal" fill="#333" stroke="#333" stroke-width="0.05" textLength="3.87" lengthAdjust="spacingAndGlyphs">2</text>
<line x1="272.30" y1="372.00" x2="275.40" y2="372.00" stroke="#1e1e1e" stroke-width="1.3"/>
<text x="263.82" y="374.70" font-size="9.14" font-weight="normal" fill="#1f1f1f" stroke="#1f1f1f" stroke-width="0.26" textLength="5.21" lengthAdjust="spacingAndGlyphs">0</text>
<line x1="274.80" y1="372.00" x2="435.10" y2="372.00" stroke="#1e1e1e" stroke-width="1.45"/>
<line x1="321.05" y1="372.00" x2="321.05" y2="374.80" stroke="#1e1e1e" stroke-width="1.3"/>
<line x1="366.70" y1="372.00" x2="366.70" y2="374.80" stroke="#1e1e1e" stroke-width="1.3"/>
<line x1="412.35" y1="372.00" x2="412.35" y2="374.80" stroke="#1e1e1e" stroke-width="1.3"/>
<text x="272.31" y="385.90" font-size="10.00" font-weight="normal" fill="#1f1f1f" stroke="#1f1f1f" stroke-width="0.26" textLength="6.14" lengthAdjust="spacingAndGlyphs">0</text>
<text x="316.41" y="385.90" font-size="10.00" font-weight="normal" fill="#1f1f1f" stroke="#1f1f1f" stroke-width="0.33" textLength="9.66" lengthAdjust="spacingAndGlyphs">10</text>
<text x="361.54" y="385.90" font-size="10.00" font-weight="normal" fill="#1f1f1f" stroke="#1f1f1f" stroke-width="0.28" textLength="10.25" lengthAdjust="spacingAndGlyphs">20</text>
<text x="407.28" y="385.90" font-size="10.00" font-weight="normal" fill="#1f1f1f" stroke="#1f1f1f" stroke-width="0.29" textLength="10.15" lengthAdjust="spacingAndGlyphs">30</text>
<line x1="275.4" y1="364.5" x2="435.1" y2="364.5" stroke="#666" stroke-width="0.9" stroke-dasharray="1.2 1.2"/>
<text x="437.96" y="361.10" font-size="8.29" font-weight="normal" fill="#1f1f1f" stroke="#1f1f1f" stroke-width="0.26" textLength="15.14" lengthAdjust="spacingAndGlyphs">LLQ</text>
<text x="338.78" y="259.50" font-size="10.71" font-weight="normal" fill="#1f1f1f" stroke="#1f1f1f" stroke-width="0.26" textLength="32.79" lengthAdjust="spacingAndGlyphs">01-007</text>
<text x="323.11" y="399.70" font-size="10.87" font-weight="normal" fill="#1f1f1f" stroke="#1f1f1f" stroke-width="0.43" textLength="64.15" lengthAdjust="spacingAndGlyphs">Days Postinfusion</text>
<text transform="translate(249.80,356.60) rotate(-90)" x="0" y="0" font-size="10.87" fill="#1f1f1f" stroke="#1f1f1f" stroke-width="0.44" textLength="76.34" lengthAdjust="spacingAndGlyphs">CAR copies/µg gDNA</text>
<polyline points="275.40,372.00 284.53,372.00 298.22,349.80 311.92,338.00 325.62,339.60 339.31,349.20 353.00,372.00 366.70,372.00 375.83,372.00 394.09,372.00 412.35,372.00" fill="none" stroke="#5aa633" stroke-width="1.15" stroke-linejoin="round"/>
<path d="M275.40,368.98L278.05,374.01L272.75,374.01Z" fill="#509c29"/>
<path d="M284.53,368.98L287.18,374.01L281.88,374.01Z" fill="#509c29"/>
<path d="M298.22,346.78L300.87,351.81L295.57,351.81Z" fill="#509c29"/>
<path d="M311.92,334.98L314.57,340.01L309.27,340.01Z" fill="#509c29"/>
<path d="M325.62,336.58L328.26,341.61L322.97,341.61Z" fill="#509c29"/>
<path d="M339.31,346.18L341.96,351.21L336.66,351.21Z" fill="#509c29"/>
<path d="M353.00,368.98L355.65,374.01L350.36,374.01Z" fill="#509c29"/>
<path d="M366.70,368.98L369.35,374.01L364.05,374.01Z" fill="#509c29"/>
<path d="M375.83,368.98L378.48,374.01L373.18,374.01Z" fill="#509c29"/>
<path d="M394.09,368.98L396.74,374.01L391.44,374.01Z" fill="#509c29"/>
<path d="M412.35,368.98L415.00,374.01L409.70,374.01Z" fill="#509c29"/>
<polyline points="275.40,353.50 279.96,372.00 284.53,350.60 289.09,350.60 293.66,349.80 298.22,307.20 302.79,302.20 307.35,297.00 311.92,281.00 316.48,282.30 321.05,281.80 325.62,278.40 330.18,285.80 334.75,278.90 339.31,277.60 343.88,281.00 348.44,282.70 353.00,283.30 366.70,282.70 375.83,290.80 394.09,295.40 412.35,292.80" fill="none" stroke="#ae1240" stroke-width="1.15" stroke-linejoin="round"/>
<circle cx="275.40" cy="353.50" r="2.15" fill="#a6002c"/>
<circle cx="279.96" cy="372.00" r="2.15" fill="#a6002c"/>
<circle cx="284.53" cy="350.60" r="2.15" fill="#a6002c"/>
<circle cx="289.09" cy="350.60" r="2.15" fill="#a6002c"/>
<circle cx="293.66" cy="349.80" r="2.15" fill="#a6002c"/>
<circle cx="298.22" cy="307.20" r="2.15" fill="#a6002c"/>
<circle cx="302.79" cy="302.20" r="2.15" fill="#a6002c"/>
<circle cx="307.35" cy="297.00" r="2.15" fill="#a6002c"/>
<circle cx="311.92" cy="281.00" r="2.15" fill="#a6002c"/>
<circle cx="316.48" cy="282.30" r="2.15" fill="#a6002c"/>
<circle cx="321.05" cy="281.80" r="2.15" fill="#a6002c"/>
<circle cx="325.62" cy="278.40" r="2.15" fill="#a6002c"/>
<circle cx="330.18" cy="285.80" r="2.15" fill="#a6002c"/>
<circle cx="334.75" cy="278.90" r="2.15" fill="#a6002c"/>
<circle cx="339.31" cy="277.60" r="2.15" fill="#a6002c"/>
<circle cx="343.88" cy="281.00" r="2.15" fill="#a6002c"/>
<circle cx="348.44" cy="282.70" r="2.15" fill="#a6002c"/>
<circle cx="353.00" cy="283.30" r="2.15" fill="#a6002c"/>
<circle cx="366.70" cy="282.70" r="2.15" fill="#a6002c"/>
<circle cx="375.83" cy="290.80" r="2.15" fill="#a6002c"/>
<circle cx="394.09" cy="295.40" r="2.15" fill="#a6002c"/>
<circle cx="412.35" cy="292.80" r="2.15" fill="#a6002c"/>
<line x1="53.40" y1="429.80" x2="53.40" y2="537.50" stroke="#1e1e1e" stroke-width="1.25"/>
<line x1="50.30" y1="436.80" x2="53.40" y2="436.80" stroke="#1e1e1e" stroke-width="1.3"/>
<text x="34.11" y="439.80" font-size="9.29" font-weight="normal" fill="#1f1f1f" stroke="#1f1f1f" stroke-width="0.28" textLength="9.55" lengthAdjust="spacingAndGlyphs">10</text>
<text x="43.43" y="436.34" font-size="6.29" font-weight="normal" fill="#333" stroke="#333" stroke-width="0.05" textLength="3.79" lengthAdjust="spacingAndGlyphs">5</text>
<line x1="50.30" y1="461.90" x2="53.40" y2="461.90" stroke="#1e1e1e" stroke-width="1.3"/>
<text x="34.11" y="464.90" font-size="9.29" font-weight="normal" fill="#1f1f1f" stroke="#1f1f1f" stroke-width="0.28" textLength="9.55" lengthAdjust="spacingAndGlyphs">10</text>
<text x="43.57" y="461.56" font-size="6.47" font-weight="normal" fill="#333" stroke="#333" stroke-width="0.05" textLength="3.49" lengthAdjust="spacingAndGlyphs">4</text>
<line x1="50.30" y1="487.00" x2="53.40" y2="487.00" stroke="#1e1e1e" stroke-width="1.3"/>
<text x="34.11" y="490.00" font-size="9.29" font-weight="normal" fill="#1f1f1f" stroke="#1f1f1f" stroke-width="0.28" textLength="9.55" lengthAdjust="spacingAndGlyphs">10</text>
<text x="43.43" y="486.54" font-size="6.20" font-weight="normal" fill="#333" stroke="#333" stroke-width="0.05" textLength="3.79" lengthAdjust="spacingAndGlyphs">3</text>
<line x1="50.30" y1="512.10" x2="53.40" y2="512.10" stroke="#1e1e1e" stroke-width="1.3"/>
<text x="34.11" y="515.10" font-size="9.29" font-weight="normal" fill="#1f1f1f" stroke="#1f1f1f" stroke-width="0.28" textLength="9.55" lengthAdjust="spacingAndGlyphs">10</text>
<text x="43.35" y="511.70" font-size="6.29" font-weight="normal" fill="#333" stroke="#333" stroke-width="0.05" textLength="3.87" lengthAdjust="spacingAndGlyphs">2</text>
<line x1="50.30" y1="536.80" x2="53.40" y2="536.80" stroke="#1e1e1e" stroke-width="1.3"/>
<text x="41.83" y="539.50" font-size="9.14" font-weight="normal" fill="#1f1f1f" stroke="#1f1f1f" stroke-width="0.26" textLength="5.21" lengthAdjust="spacingAndGlyphs">0</text>
<line x1="52.80" y1="536.80" x2="213.20" y2="536.80" stroke="#1e1e1e" stroke-width="1.45"/>
<line x1="99.05" y1="536.80" x2="99.05" y2="539.60" stroke="#1e1e1e" stroke-width="1.3"/>
<line x1="144.70" y1="536.80" x2="144.70" y2="539.60" stroke="#1e1e1e" stroke-width="1.3"/>
<line x1="190.35" y1="536.80" x2="190.35" y2="539.60" stroke="#1e1e1e" stroke-width="1.3"/>
<text x="50.31" y="550.70" font-size="10.00" font-weight="normal" fill="#1f1f1f" stroke="#1f1f1f" stroke-width="0.26" textLength="6.14" lengthAdjust="spacingAndGlyphs">0</text>
<text x="94.41" y="550.70" font-size="10.00" font-weight="normal" fill="#1f1f1f" stroke="#1f1f1f" stroke-width="0.33" textLength="9.66" lengthAdjust="spacingAndGlyphs">10</text>
<text x="139.54" y="550.70" font-size="10.00" font-weight="normal" fill="#1f1f1f" stroke="#1f1f1f" stroke-width="0.28" textLength="10.25" lengthAdjust="spacingAndGlyphs">20</text>
<text x="185.28" y="550.70" font-size="10.00" font-weight="normal" fill="#1f1f1f" stroke="#1f1f1f" stroke-width="0.29" textLength="10.15" lengthAdjust="spacingAndGlyphs">30</text>
<line x1="53.4" y1="529.3" x2="213.2" y2="529.3" stroke="#666" stroke-width="0.9" stroke-dasharray="1.2 1.2"/>
<text x="216.06" y="525.90" font-size="8.29" font-weight="normal" fill="#1f1f1f" stroke="#1f1f1f" stroke-width="0.26" textLength="15.14" lengthAdjust="spacingAndGlyphs">LLQ</text>
<text x="116.48" y="424.30" font-size="10.71" font-weight="normal" fill="#1f1f1f" stroke="#1f1f1f" stroke-width="0.26" textLength="32.68" lengthAdjust="spacingAndGlyphs">01-010</text>
<text x="101.16" y="564.50" font-size="10.87" font-weight="normal" fill="#1f1f1f" stroke="#1f1f1f" stroke-width="0.43" textLength="64.15" lengthAdjust="spacingAndGlyphs">Days Postinfusion</text>
<text transform="translate(27.80,521.40) rotate(-90)" x="0" y="0" font-size="10.87" fill="#1f1f1f" stroke="#1f1f1f" stroke-width="0.44" textLength="76.34" lengthAdjust="spacingAndGlyphs">CAR copies/µg gDNA</text>
<polyline points="53.40,536.80 57.96,536.80 85.36,536.80 99.05,536.80 112.75,536.80" fill="none" stroke="#5aa633" stroke-width="1.15" stroke-linejoin="round"/>
<path d="M53.40,533.78L56.05,538.81L50.75,538.81Z" fill="#509c29"/>
<path d="M57.96,533.78L60.61,538.81L55.31,538.81Z" fill="#509c29"/>
<path d="M85.36,533.78L88.01,538.81L82.70,538.81Z" fill="#509c29"/>
<path d="M99.05,533.78L101.70,538.81L96.40,538.81Z" fill="#509c29"/>
<path d="M112.75,533.78L115.40,538.81L110.09,538.81Z" fill="#509c29"/>
<polyline points="53.40,483.50 57.96,536.80 62.53,536.80 67.09,536.80 71.66,513.10 76.22,493.90 80.79,483.90 85.36,470.90 89.92,465.10 94.48,459.00 99.05,462.20 103.62,457.40 108.18,446.50 112.75,440.20 117.31,442.30 121.88,437.00 126.44,436.80 131.00,438.00 135.57,437.00 144.70,440.00 158.40,438.00 190.35,440.50" fill="none" stroke="#ae1240" stroke-width="1.15" stroke-linejoin="round"/>
<circle cx="53.40" cy="483.50" r="2.15" fill="#a6002c"/>
<circle cx="57.96" cy="536.80" r="2.15" fill="#a6002c"/>
<circle cx="62.53" cy="536.80" r="2.15" fill="#a6002c"/>
<circle cx="67.09" cy="536.80" r="2.15" fill="#a6002c"/>
<circle cx="71.66" cy="513.10" r="2.15" fill="#a6002c"/>
<circle cx="76.22" cy="493.90" r="2.15" fill="#a6002c"/>
<circle cx="80.79" cy="483.90" r="2.15" fill="#a6002c"/>
<circle cx="85.36" cy="470.90" r="2.15" fill="#a6002c"/>
<circle cx="89.92" cy="465.10" r="2.15" fill="#a6002c"/>
<circle cx="94.48" cy="459.00" r="2.15" fill="#a6002c"/>
<circle cx="99.05" cy="462.20" r="2.15" fill="#a6002c"/>
<circle cx="103.62" cy="457.40" r="2.15" fill="#a6002c"/>
<circle cx="108.18" cy="446.50" r="2.15" fill="#a6002c"/>
<circle cx="112.75" cy="440.20" r="2.15" fill="#a6002c"/>
<circle cx="117.31" cy="442.30" r="2.15" fill="#a6002c"/>
<circle cx="121.88" cy="437.00" r="2.15" fill="#a6002c"/>
<circle cx="126.44" cy="436.80" r="2.15" fill="#a6002c"/>
<circle cx="131.00" cy="438.00" r="2.15" fill="#a6002c"/>
<circle cx="135.57" cy="437.00" r="2.15" fill="#a6002c"/>
<circle cx="144.70" cy="440.00" r="2.15" fill="#a6002c"/>
<circle cx="158.40" cy="438.00" r="2.15" fill="#a6002c"/>
<circle cx="190.35" cy="440.50" r="2.15" fill="#a6002c"/>
<line x1="275.40" y1="429.80" x2="275.40" y2="537.50" stroke="#1e1e1e" stroke-width="1.25"/>
<line x1="272.30" y1="436.80" x2="275.40" y2="436.80" stroke="#1e1e1e" stroke-width="1.3"/>
<text x="256.11" y="439.80" font-size="9.29" font-weight="normal" fill="#1f1f1f" stroke="#1f1f1f" stroke-width="0.28" textLength="9.55" lengthAdjust="spacingAndGlyphs">10</text>
<text x="265.43" y="436.34" font-size="6.29" font-weight="normal" fill="#333" stroke="#333" stroke-width="0.05" textLength="3.79" lengthAdjust="spacingAndGlyphs">5</text>
<line x1="272.30" y1="461.90" x2="275.40" y2="461.90" stroke="#1e1e1e" stroke-width="1.3"/>
<text x="256.11" y="464.90" font-size="9.29" font-weight="normal" fill="#1f1f1f" stroke="#1f1f1f" stroke-width="0.28" textLength="9.55" lengthAdjust="spacingAndGlyphs">10</text>
<text x="265.57" y="461.56" font-size="6.47" font-weight="normal" fill="#333" stroke="#333" stroke-width="0.05" textLength="3.49" lengthAdjust="spacingAndGlyphs">4</text>
<line x1="272.30" y1="487.00" x2="275.40" y2="487.00" stroke="#1e1e1e" stroke-width="1.3"/>
<text x="256.11" y="490.00" font-size="9.29" font-weight="normal" fill="#1f1f1f" stroke="#1f1f1f" stroke-width="0.28" textLength="9.55" lengthAdjust="spacingAndGlyphs">10</text>
<text x="265.43" y="486.54" font-size="6.20" font-weight="normal" fill="#333" stroke="#333" stroke-width="0.05" textLength="3.79" lengthAdjust="spacingAndGlyphs">3</text>
<line x1="272.30" y1="512.10" x2="275.40" y2="512.10" stroke="#1e1e1e" stroke-width="1.3"/>
<text x="256.11" y="515.10" font-size="9.29" font-weight="normal" fill="#1f1f1f" stroke="#1f1f1f" stroke-width="0.28" textLength="9.55" lengthAdjust="spacingAndGlyphs">10</text>
<text x="265.35" y="511.70" font-size="6.29" font-weight="normal" fill="#333" stroke="#333" stroke-width="0.05" textLength="3.87" lengthAdjust="spacingAndGlyphs">2</text>
<line x1="272.30" y1="536.80" x2="275.40" y2="536.80" stroke="#1e1e1e" stroke-width="1.3"/>
<text x="263.82" y="539.50" font-size="9.14" font-weight="normal" fill="#1f1f1f" stroke="#1f1f1f" stroke-width="0.26" textLength="5.21" lengthAdjust="spacingAndGlyphs">0</text>
<line x1="274.80" y1="536.80" x2="435.10" y2="536.80" stroke="#1e1e1e" stroke-width="1.45"/>
<line x1="321.05" y1="536.80" x2="321.05" y2="539.60" stroke="#1e1e1e" stroke-width="1.3"/>
<line x1="366.70" y1="536.80" x2="366.70" y2="539.60" stroke="#1e1e1e" stroke-width="1.3"/>
<line x1="412.35" y1="536.80" x2="412.35" y2="539.60" stroke="#1e1e1e" stroke-width="1.3"/>
<text x="272.31" y="550.70" font-size="10.00" font-weight="normal" fill="#1f1f1f" stroke="#1f1f1f" stroke-width="0.26" textLength="6.14" lengthAdjust="spacingAndGlyphs">0</text>
<text x="316.41" y="550.70" font-size="10.00" font-weight="normal" fill="#1f1f1f" stroke="#1f1f1f" stroke-width="0.33" textLength="9.66" lengthAdjust="spacingAndGlyphs">10</text>
<text x="361.54" y="550.70" font-size="10.00" font-weight="normal" fill="#1f1f1f" stroke="#1f1f1f" stroke-width="0.28" textLength="10.25" lengthAdjust="spacingAndGlyphs">20</text>
<text x="407.28" y="550.70" font-size="10.00" font-weight="normal" fill="#1f1f1f" stroke="#1f1f1f" stroke-width="0.29" textLength="10.15" lengthAdjust="spacingAndGlyphs">30</text>
<line x1="275.4" y1="529.3" x2="435.1" y2="529.3" stroke="#666" stroke-width="0.9" stroke-dasharray="1.2 1.2"/>
<text x="437.96" y="525.90" font-size="8.29" font-weight="normal" fill="#1f1f1f" stroke="#1f1f1f" stroke-width="0.26" textLength="15.14" lengthAdjust="spacingAndGlyphs">LLQ</text>
<text x="338.68" y="424.30" font-size="10.71" font-weight="normal" fill="#1f1f1f" stroke="#1f1f1f" stroke-width="0.26" textLength="32.68" lengthAdjust="spacingAndGlyphs">01-013</text>
<text x="323.11" y="564.50" font-size="10.87" font-weight="normal" fill="#1f1f1f" stroke="#1f1f1f" stroke-width="0.43" textLength="64.15" lengthAdjust="spacingAndGlyphs">Days Postinfusion</text>
<text transform="translate(249.80,521.40) rotate(-90)" x="0" y="0" font-size="10.87" fill="#1f1f1f" stroke="#1f1f1f" stroke-width="0.44" textLength="76.34" lengthAdjust="spacingAndGlyphs">CAR copies/µg gDNA</text>
<polyline points="275.40,536.80 289.09,536.80 302.79,536.80 316.48,536.80 330.18,489.10 343.88,536.80 353.00,536.80 412.35,536.80" fill="none" stroke="#5aa633" stroke-width="1.15" stroke-linejoin="round"/>
<path d="M275.40,533.78L278.05,538.81L272.75,538.81Z" fill="#509c29"/>
<path d="M289.09,533.78L291.74,538.81L286.44,538.81Z" fill="#509c29"/>
<path d="M302.79,533.78L305.44,538.81L300.14,538.81Z" fill="#509c29"/>
<path d="M316.48,533.78L319.13,538.81L313.83,538.81Z" fill="#509c29"/>
<path d="M330.18,486.08L332.83,491.11L327.53,491.11Z" fill="#509c29"/>
<path d="M343.88,533.78L346.52,538.81L341.23,538.81Z" fill="#509c29"/>
<path d="M353.00,533.78L355.65,538.81L350.36,538.81Z" fill="#509c29"/>
<path d="M412.35,533.78L415.00,538.81L409.70,538.81Z" fill="#509c29"/>
<polyline points="275.40,508.00 279.96,536.80 284.53,536.80 289.09,505.90 293.66,492.20 298.22,494.30 302.79,482.40 307.35,463.90 316.48,447.60 321.05,443.90 325.62,443.90 330.18,447.20 334.75,452.20 343.88,453.10 348.44,468.20 353.00,469.90 412.35,484.50" fill="none" stroke="#ae1240" stroke-width="1.15" stroke-linejoin="round"/>
<circle cx="275.40" cy="508.00" r="2.15" fill="#a6002c"/>
<circle cx="279.96" cy="536.80" r="2.15" fill="#a6002c"/>
<circle cx="284.53" cy="536.80" r="2.15" fill="#a6002c"/>
<circle cx="289.09" cy="505.90" r="2.15" fill="#a6002c"/>
<circle cx="293.66" cy="492.20" r="2.15" fill="#a6002c"/>
<circle cx="298.22" cy="494.30" r="2.15" fill="#a6002c"/>
<circle cx="302.79" cy="482.40" r="2.15" fill="#a6002c"/>
<circle cx="307.35" cy="463.90" r="2.15" fill="#a6002c"/>
<circle cx="316.48" cy="447.60" r="2.15" fill="#a6002c"/>
<circle cx="321.05" cy="443.90" r="2.15" fill="#a6002c"/>
<circle cx="325.62" cy="443.90" r="2.15" fill="#a6002c"/>
<circle cx="330.18" cy="447.20" r="2.15" fill="#a6002c"/>
<circle cx="334.75" cy="452.20" r="2.15" fill="#a6002c"/>
<circle cx="343.88" cy="453.10" r="2.15" fill="#a6002c"/>
<circle cx="348.44" cy="468.20" r="2.15" fill="#a6002c"/>
<circle cx="353.00" cy="469.90" r="2.15" fill="#a6002c"/>
<circle cx="412.35" cy="484.50" r="2.15" fill="#a6002c"/>
<line x1="459.20" y1="290.90" x2="473.20" y2="290.90" stroke="#ae1240" stroke-width="1.15"/>
<circle cx="466.20" cy="290.90" r="2.15" fill="#a6002c"/>
<text x="476.60" y="293.70" font-size="9.00" font-weight="normal" fill="#1f1f1f" stroke="#1f1f1f" stroke-width="0.30" textLength="29.59" lengthAdjust="spacingAndGlyphs">CT103A</text>
<line x1="459.20" y1="309.00" x2="473.20" y2="309.00" stroke="#5aa633" stroke-width="1.15"/>
<path d="M466.20,306.21L468.65,310.86L463.75,310.86Z" fill="#509c29"/>
<text x="476.46" y="312.00" font-size="8.71" font-weight="normal" fill="#1f1f1f" stroke="#1f1f1f" stroke-width="0.29" textLength="35.84" lengthAdjust="spacingAndGlyphs">Prior CAR</text>
</svg></body></html>
